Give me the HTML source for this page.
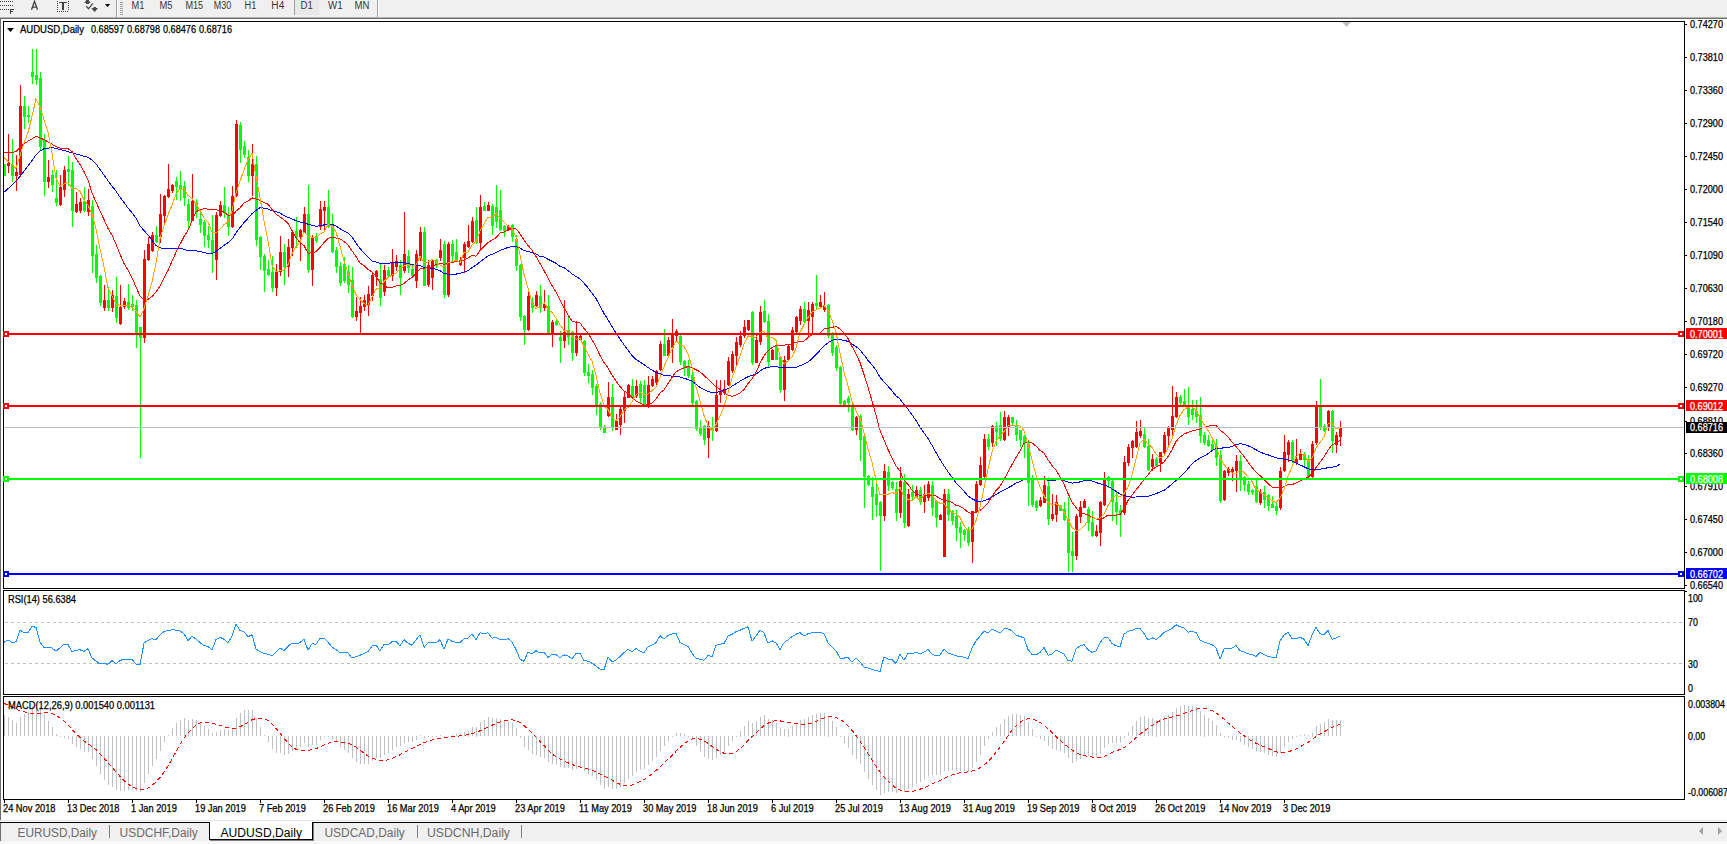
<!DOCTYPE html>
<html><head><meta charset="utf-8"><style>
html,body{margin:0;padding:0;background:#fff;overflow:hidden}
svg{display:block}
text{white-space:pre}
</style></head><body>
<svg width="1727" height="844" viewBox="0 0 1727 844" font-family='"Liberation Sans", sans-serif'>
<rect x="0" y="0" width="1727" height="17" fill="#f0f0f0"/>
<rect x="0" y="17" width="1727" height="1" fill="#b4b4b4"/>
<rect x="0" y="18" width="1727" height="1" fill="#6d6d6d"/>
<rect x="0" y="19" width="1727" height="801" fill="#ffffff"/>
<rect x="0" y="19" width="1" height="801" fill="#6d6d6d"/>
<g shape-rendering="crispEdges">
<rect x="116" y="0" width="1" height="17" fill="#a0a0a0"/><rect x="117" y="0" width="1" height="17" fill="#ffffff"/>
<rect x="377" y="0" width="1" height="17" fill="#a0a0a0"/><rect x="378" y="0" width="1" height="17" fill="#ffffff"/>
<rect x="294" y="0" width="1" height="15" fill="#a0a0a0"/><rect x="295" y="0" width="24" height="15" fill="#e8e8e8"/>
<rect x="120" y="2" width="3" height="1" fill="#a0a0a0"/>
<rect x="120" y="4" width="3" height="1" fill="#a0a0a0"/>
<rect x="120" y="6" width="3" height="1" fill="#a0a0a0"/>
<rect x="120" y="8" width="3" height="1" fill="#a0a0a0"/>
<rect x="120" y="10" width="3" height="1" fill="#a0a0a0"/>
<rect x="120" y="12" width="3" height="1" fill="#a0a0a0"/>
<rect x="120" y="14" width="3" height="1" fill="#a0a0a0"/>
</g>
<text x="131.6" y="9" font-size="10" fill="#383838" stroke="#383838" stroke-width="0" text-anchor="start" font-weight="normal" textLength="12.9" lengthAdjust="spacingAndGlyphs">M1</text>
<text x="159.4" y="9" font-size="10" fill="#383838" stroke="#383838" stroke-width="0" text-anchor="start" font-weight="normal" textLength="13.0" lengthAdjust="spacingAndGlyphs">M5</text>
<text x="185.4" y="9" font-size="10" fill="#383838" stroke="#383838" stroke-width="0" text-anchor="start" font-weight="normal" textLength="17.8" lengthAdjust="spacingAndGlyphs">M15</text>
<text x="213.8" y="9" font-size="10" fill="#383838" stroke="#383838" stroke-width="0" text-anchor="start" font-weight="normal" textLength="17.5" lengthAdjust="spacingAndGlyphs">M30</text>
<text x="244.6" y="9" font-size="10" fill="#383838" stroke="#383838" stroke-width="0" text-anchor="start" font-weight="normal" textLength="11.8" lengthAdjust="spacingAndGlyphs">H1</text>
<text x="271.3" y="9" font-size="10" fill="#383838" stroke="#383838" stroke-width="0" text-anchor="start" font-weight="normal" textLength="13.0" lengthAdjust="spacingAndGlyphs">H4</text>
<text x="300.5" y="9" font-size="10" fill="#383838" stroke="#383838" stroke-width="0" text-anchor="start" font-weight="normal" textLength="12.2" lengthAdjust="spacingAndGlyphs">D1</text>
<text x="328" y="9" font-size="10" fill="#383838" stroke="#383838" stroke-width="0" text-anchor="start" font-weight="normal" textLength="14.6" lengthAdjust="spacingAndGlyphs">W1</text>
<text x="354.5" y="9" font-size="10" fill="#383838" stroke="#383838" stroke-width="0" text-anchor="start" font-weight="normal" textLength="14.9" lengthAdjust="spacingAndGlyphs">MN</text>
<g fill="#404040" shape-rendering="crispEdges">
<rect x="0" y="1" width="1" height="1"/>
<rect x="2" y="1" width="1" height="1"/>
<rect x="4" y="1" width="1" height="1"/>
<rect x="6" y="1" width="1" height="1"/>
<rect x="8" y="1" width="1" height="1"/>
<rect x="10" y="1" width="1" height="1"/>
<rect x="12" y="1" width="1" height="1"/>
<rect x="0" y="5" width="1" height="1"/>
<rect x="2" y="5" width="1" height="1"/>
<rect x="4" y="5" width="1" height="1"/>
<rect x="6" y="5" width="1" height="1"/>
<rect x="8" y="5" width="1" height="1"/>
<rect x="10" y="5" width="1" height="1"/>
<rect x="12" y="5" width="1" height="1"/>
<rect x="0" y="9" width="1" height="1"/>
<rect x="2" y="9" width="1" height="1"/>
<rect x="4" y="9" width="1" height="1"/>
<rect x="6" y="9" width="1" height="1"/>
<rect x="8" y="9" width="1" height="1"/>
<rect x="10" y="9" width="1" height="5"/><rect x="10" y="9" width="4" height="1"/><rect x="10" y="11" width="3" height="1"/>
<rect x="57" y="1" width="1" height="1"/><rect x="68" y="1" width="1" height="1"/>
<rect x="57" y="3" width="1" height="1"/><rect x="68" y="3" width="1" height="1"/>
<rect x="57" y="5" width="1" height="1"/><rect x="68" y="5" width="1" height="1"/>
<rect x="57" y="7" width="1" height="1"/><rect x="68" y="7" width="1" height="1"/>
<rect x="57" y="9" width="1" height="1"/><rect x="68" y="9" width="1" height="1"/>
<rect x="57" y="11" width="1" height="1"/>
<rect x="59" y="11" width="1" height="1"/>
<rect x="61" y="11" width="1" height="1"/>
<rect x="63" y="11" width="1" height="1"/>
<rect x="65" y="11" width="1" height="1"/>
<rect x="67" y="11" width="1" height="1"/>
<rect x="59" y="2" width="8" height="1"/><rect x="62" y="2" width="2" height="8"/>
</g>
<path d="M31.5 9.8 L34.5 1.3 L37.5 9.8 M32.6 7.2 L36.4 7.2" fill="none" stroke="#404040" stroke-width="1.3"/>
<path d="M86 0 L89 0 L89 1 L91 3 L89 3 L89 4 L86 4 L86 3 L84 3 L86 1 Z" fill="#4a4a4a"/>
<path d="M86.3 6.3 L88.5 8.8 L92.8 3.4" fill="none" stroke="#4a4a4a" stroke-width="1.3"/>
<path d="M93.5 7 L96 7 L96 8 L98 8.3 L94.7 12 L91.2 8.3 L93.5 8 Z" fill="#4a4a4a"/>
<path d="M105 4 L110.2 4 L107.6 7 Z" fill="#000"/>
<g shape-rendering="crispEdges" fill="none" stroke="#000" stroke-width="1">
<rect x="3.5" y="21.5" width="1681" height="567"/>
<rect x="3.5" y="590.5" width="1681" height="104"/>
<rect x="3.5" y="696.5" width="1681" height="103"/>
</g>
<g shape-rendering="crispEdges">
<rect x="1685" y="24" width="2" height="1" fill="#000"/>
<rect x="1685" y="57" width="2" height="1" fill="#000"/>
<rect x="1685" y="90" width="2" height="1" fill="#000"/>
<rect x="1685" y="123" width="2" height="1" fill="#000"/>
<rect x="1685" y="156" width="2" height="1" fill="#000"/>
<rect x="1685" y="189" width="2" height="1" fill="#000"/>
<rect x="1685" y="222" width="2" height="1" fill="#000"/>
<rect x="1685" y="255" width="2" height="1" fill="#000"/>
<rect x="1685" y="288" width="2" height="1" fill="#000"/>
<rect x="1685" y="321" width="2" height="1" fill="#000"/>
<rect x="1685" y="354" width="2" height="1" fill="#000"/>
<rect x="1685" y="387" width="2" height="1" fill="#000"/>
<rect x="1685" y="421" width="2" height="1" fill="#000"/>
<rect x="1685" y="453" width="2" height="1" fill="#000"/>
<rect x="1685" y="486" width="2" height="1" fill="#000"/>
<rect x="1685" y="519" width="2" height="1" fill="#000"/>
<rect x="1685" y="552" width="2" height="1" fill="#000"/>
<rect x="1685" y="585" width="2" height="1" fill="#000"/>
</g>
<text x="1690" y="28" font-size="10" fill="#000" stroke="#000" stroke-width="0.25" text-anchor="start" font-weight="normal" textLength="33" lengthAdjust="spacingAndGlyphs">0.74270</text>
<text x="1690" y="61" font-size="10" fill="#000" stroke="#000" stroke-width="0.25" text-anchor="start" font-weight="normal" textLength="33" lengthAdjust="spacingAndGlyphs">0.73810</text>
<text x="1690" y="94" font-size="10" fill="#000" stroke="#000" stroke-width="0.25" text-anchor="start" font-weight="normal" textLength="33" lengthAdjust="spacingAndGlyphs">0.73360</text>
<text x="1690" y="127" font-size="10" fill="#000" stroke="#000" stroke-width="0.25" text-anchor="start" font-weight="normal" textLength="33" lengthAdjust="spacingAndGlyphs">0.72900</text>
<text x="1690" y="160" font-size="10" fill="#000" stroke="#000" stroke-width="0.25" text-anchor="start" font-weight="normal" textLength="33" lengthAdjust="spacingAndGlyphs">0.72450</text>
<text x="1690" y="193" font-size="10" fill="#000" stroke="#000" stroke-width="0.25" text-anchor="start" font-weight="normal" textLength="33" lengthAdjust="spacingAndGlyphs">0.72000</text>
<text x="1690" y="226" font-size="10" fill="#000" stroke="#000" stroke-width="0.25" text-anchor="start" font-weight="normal" textLength="33" lengthAdjust="spacingAndGlyphs">0.71540</text>
<text x="1690" y="259" font-size="10" fill="#000" stroke="#000" stroke-width="0.25" text-anchor="start" font-weight="normal" textLength="33" lengthAdjust="spacingAndGlyphs">0.71090</text>
<text x="1690" y="292" font-size="10" fill="#000" stroke="#000" stroke-width="0.25" text-anchor="start" font-weight="normal" textLength="33" lengthAdjust="spacingAndGlyphs">0.70630</text>
<text x="1690" y="325" font-size="10" fill="#000" stroke="#000" stroke-width="0.25" text-anchor="start" font-weight="normal" textLength="33" lengthAdjust="spacingAndGlyphs">0.70180</text>
<text x="1690" y="358" font-size="10" fill="#000" stroke="#000" stroke-width="0.25" text-anchor="start" font-weight="normal" textLength="33" lengthAdjust="spacingAndGlyphs">0.69720</text>
<text x="1690" y="391" font-size="10" fill="#000" stroke="#000" stroke-width="0.25" text-anchor="start" font-weight="normal" textLength="33" lengthAdjust="spacingAndGlyphs">0.69270</text>
<text x="1690" y="425" font-size="10" fill="#000" stroke="#000" stroke-width="0.25" text-anchor="start" font-weight="normal" textLength="33" lengthAdjust="spacingAndGlyphs">0.68810</text>
<text x="1690" y="457" font-size="10" fill="#000" stroke="#000" stroke-width="0.25" text-anchor="start" font-weight="normal" textLength="33" lengthAdjust="spacingAndGlyphs">0.68360</text>
<text x="1690" y="490" font-size="10" fill="#000" stroke="#000" stroke-width="0.25" text-anchor="start" font-weight="normal" textLength="33" lengthAdjust="spacingAndGlyphs">0.67910</text>
<text x="1690" y="523" font-size="10" fill="#000" stroke="#000" stroke-width="0.25" text-anchor="start" font-weight="normal" textLength="33" lengthAdjust="spacingAndGlyphs">0.67450</text>
<text x="1690" y="556" font-size="10" fill="#000" stroke="#000" stroke-width="0.25" text-anchor="start" font-weight="normal" textLength="33" lengthAdjust="spacingAndGlyphs">0.67000</text>
<text x="1690" y="589" font-size="10" fill="#000" stroke="#000" stroke-width="0.25" text-anchor="start" font-weight="normal" textLength="33" lengthAdjust="spacingAndGlyphs">0.66540</text>
<g shape-rendering="crispEdges">
<rect x="4" y="164" width="1" height="12" fill="#00ff00"/>
<rect x="4" y="164" width="2" height="12" fill="#00ff00"/>
<rect x="8" y="134" width="1" height="39" fill="#ff0000"/>
<rect x="7" y="163" width="3" height="3" fill="#ff0000"/>
<rect x="12" y="139" width="1" height="43" fill="#00ff00"/>
<rect x="11" y="165" width="3" height="11" fill="#00ff00"/>
<rect x="16" y="155" width="1" height="36" fill="#ff0000"/>
<rect x="15" y="172" width="3" height="4" fill="#ff0000"/>
<rect x="20" y="85" width="1" height="92" fill="#ff0000"/>
<rect x="19" y="106" width="3" height="69" fill="#ff0000"/>
<rect x="24" y="96" width="1" height="33" fill="#00ff00"/>
<rect x="23" y="106" width="3" height="11" fill="#00ff00"/>
<rect x="28" y="106" width="1" height="17" fill="#00ff00"/>
<rect x="27" y="115" width="3" height="2" fill="#00ff00"/>
<rect x="32" y="49" width="1" height="35" fill="#00ff00"/>
<rect x="31" y="72" width="3" height="5" fill="#00ff00"/>
<rect x="36" y="49" width="1" height="36" fill="#00ff00"/>
<rect x="35" y="75" width="3" height="5" fill="#00ff00"/>
<rect x="40" y="72" width="1" height="79" fill="#00ff00"/>
<rect x="39" y="78" width="3" height="69" fill="#00ff00"/>
<rect x="44" y="134" width="1" height="62" fill="#00ff00"/>
<rect x="43" y="140" width="3" height="42" fill="#00ff00"/>
<rect x="48" y="160" width="1" height="28" fill="#ff0000"/>
<rect x="47" y="177" width="3" height="5" fill="#ff0000"/>
<rect x="52" y="170" width="1" height="22" fill="#00ff00"/>
<rect x="51" y="175" width="3" height="10" fill="#00ff00"/>
<rect x="56" y="170" width="1" height="36" fill="#00ff00"/>
<rect x="55" y="198" width="3" height="5" fill="#00ff00"/>
<rect x="60" y="175" width="1" height="31" fill="#ff0000"/>
<rect x="59" y="187" width="3" height="18" fill="#ff0000"/>
<rect x="64" y="166" width="1" height="31" fill="#ff0000"/>
<rect x="63" y="170" width="3" height="20" fill="#ff0000"/>
<rect x="68" y="156" width="1" height="30" fill="#00ff00"/>
<rect x="67" y="169" width="3" height="3" fill="#00ff00"/>
<rect x="72" y="162" width="1" height="65" fill="#00ff00"/>
<rect x="71" y="170" width="3" height="41" fill="#00ff00"/>
<rect x="76" y="192" width="1" height="21" fill="#ff0000"/>
<rect x="75" y="204" width="3" height="8" fill="#ff0000"/>
<rect x="80" y="198" width="1" height="15" fill="#ff0000"/>
<rect x="79" y="202" width="3" height="9" fill="#ff0000"/>
<rect x="84" y="187" width="1" height="25" fill="#00ff00"/>
<rect x="83" y="201" width="3" height="10" fill="#00ff00"/>
<rect x="88" y="189" width="1" height="27" fill="#ff0000"/>
<rect x="87" y="200" width="3" height="12" fill="#ff0000"/>
<rect x="92" y="200" width="1" height="73" fill="#00ff00"/>
<rect x="91" y="206" width="3" height="50" fill="#00ff00"/>
<rect x="96" y="245" width="1" height="38" fill="#00ff00"/>
<rect x="95" y="254" width="3" height="24" fill="#00ff00"/>
<rect x="100" y="275" width="1" height="31" fill="#00ff00"/>
<rect x="99" y="276" width="3" height="27" fill="#00ff00"/>
<rect x="104" y="285" width="1" height="26" fill="#ff0000"/>
<rect x="103" y="300" width="3" height="8" fill="#ff0000"/>
<rect x="108" y="287" width="1" height="24" fill="#00ff00"/>
<rect x="107" y="300" width="3" height="8" fill="#00ff00"/>
<rect x="112" y="290" width="1" height="22" fill="#ff0000"/>
<rect x="111" y="295" width="3" height="13" fill="#ff0000"/>
<rect x="116" y="277" width="1" height="46" fill="#00ff00"/>
<rect x="115" y="296" width="3" height="22" fill="#00ff00"/>
<rect x="120" y="285" width="1" height="40" fill="#ff0000"/>
<rect x="119" y="307" width="3" height="17" fill="#ff0000"/>
<rect x="124" y="298" width="1" height="11" fill="#ff0000"/>
<rect x="123" y="301" width="3" height="6" fill="#ff0000"/>
<rect x="128" y="284" width="1" height="26" fill="#00ff00"/>
<rect x="127" y="302" width="3" height="6" fill="#00ff00"/>
<rect x="132" y="295" width="1" height="16" fill="#00ff00"/>
<rect x="131" y="304" width="3" height="3" fill="#00ff00"/>
<rect x="136" y="300" width="1" height="48" fill="#00ff00"/>
<rect x="135" y="305" width="3" height="30" fill="#00ff00"/>
<rect x="140" y="327" width="1" height="131" fill="#00ff00"/>
<rect x="139" y="327" width="3" height="11" fill="#00ff00"/>
<rect x="144" y="250" width="1" height="93" fill="#ff0000"/>
<rect x="143" y="259" width="3" height="79" fill="#ff0000"/>
<rect x="148" y="237" width="1" height="24" fill="#ff0000"/>
<rect x="147" y="244" width="3" height="16" fill="#ff0000"/>
<rect x="152" y="232" width="1" height="20" fill="#ff0000"/>
<rect x="151" y="235" width="3" height="16" fill="#ff0000"/>
<rect x="156" y="226" width="1" height="17" fill="#00ff00"/>
<rect x="155" y="235" width="3" height="7" fill="#00ff00"/>
<rect x="160" y="194" width="1" height="49" fill="#ff0000"/>
<rect x="159" y="214" width="3" height="23" fill="#ff0000"/>
<rect x="164" y="195" width="1" height="28" fill="#ff0000"/>
<rect x="163" y="196" width="3" height="20" fill="#ff0000"/>
<rect x="168" y="164" width="1" height="34" fill="#ff0000"/>
<rect x="167" y="189" width="3" height="8" fill="#ff0000"/>
<rect x="172" y="184" width="1" height="9" fill="#ff0000"/>
<rect x="171" y="185" width="3" height="6" fill="#ff0000"/>
<rect x="176" y="177" width="1" height="23" fill="#00ff00"/>
<rect x="175" y="181" width="3" height="6" fill="#00ff00"/>
<rect x="180" y="171" width="1" height="30" fill="#00ff00"/>
<rect x="179" y="185" width="3" height="5" fill="#00ff00"/>
<rect x="184" y="181" width="1" height="25" fill="#00ff00"/>
<rect x="183" y="186" width="3" height="12" fill="#00ff00"/>
<rect x="188" y="199" width="1" height="29" fill="#00ff00"/>
<rect x="187" y="204" width="3" height="17" fill="#00ff00"/>
<rect x="192" y="174" width="1" height="47" fill="#ff0000"/>
<rect x="191" y="201" width="3" height="20" fill="#ff0000"/>
<rect x="196" y="199" width="1" height="19" fill="#00ff00"/>
<rect x="195" y="202" width="3" height="10" fill="#00ff00"/>
<rect x="200" y="210" width="1" height="23" fill="#00ff00"/>
<rect x="199" y="219" width="3" height="6" fill="#00ff00"/>
<rect x="204" y="220" width="1" height="27" fill="#00ff00"/>
<rect x="203" y="222" width="3" height="14" fill="#00ff00"/>
<rect x="208" y="226" width="1" height="22" fill="#00ff00"/>
<rect x="207" y="235" width="3" height="5" fill="#00ff00"/>
<rect x="212" y="215" width="1" height="58" fill="#00ff00"/>
<rect x="211" y="240" width="3" height="13" fill="#00ff00"/>
<rect x="216" y="212" width="1" height="68" fill="#ff0000"/>
<rect x="215" y="215" width="3" height="45" fill="#ff0000"/>
<rect x="220" y="201" width="1" height="16" fill="#ff0000"/>
<rect x="219" y="205" width="3" height="11" fill="#ff0000"/>
<rect x="224" y="187" width="1" height="31" fill="#00ff00"/>
<rect x="223" y="205" width="3" height="8" fill="#00ff00"/>
<rect x="228" y="207" width="1" height="29" fill="#00ff00"/>
<rect x="227" y="215" width="3" height="12" fill="#00ff00"/>
<rect x="232" y="186" width="1" height="42" fill="#ff0000"/>
<rect x="231" y="196" width="3" height="31" fill="#ff0000"/>
<rect x="236" y="120" width="1" height="77" fill="#ff0000"/>
<rect x="235" y="124" width="3" height="72" fill="#ff0000"/>
<rect x="240" y="122" width="1" height="41" fill="#00ff00"/>
<rect x="239" y="125" width="3" height="25" fill="#00ff00"/>
<rect x="244" y="141" width="1" height="17" fill="#00ff00"/>
<rect x="243" y="146" width="3" height="9" fill="#00ff00"/>
<rect x="248" y="150" width="1" height="32" fill="#00ff00"/>
<rect x="247" y="157" width="3" height="19" fill="#00ff00"/>
<rect x="252" y="144" width="1" height="52" fill="#ff0000"/>
<rect x="251" y="164" width="3" height="12" fill="#ff0000"/>
<rect x="256" y="156" width="1" height="90" fill="#00ff00"/>
<rect x="255" y="164" width="3" height="76" fill="#00ff00"/>
<rect x="260" y="236" width="1" height="34" fill="#00ff00"/>
<rect x="259" y="237" width="3" height="20" fill="#00ff00"/>
<rect x="264" y="254" width="1" height="38" fill="#00ff00"/>
<rect x="263" y="256" width="3" height="15" fill="#00ff00"/>
<rect x="268" y="260" width="1" height="16" fill="#00ff00"/>
<rect x="267" y="269" width="3" height="6" fill="#00ff00"/>
<rect x="272" y="256" width="1" height="36" fill="#00ff00"/>
<rect x="271" y="272" width="3" height="16" fill="#00ff00"/>
<rect x="276" y="264" width="1" height="32" fill="#ff0000"/>
<rect x="275" y="271" width="3" height="17" fill="#ff0000"/>
<rect x="280" y="236" width="1" height="40" fill="#ff0000"/>
<rect x="279" y="252" width="3" height="20" fill="#ff0000"/>
<rect x="284" y="244" width="1" height="41" fill="#00ff00"/>
<rect x="283" y="252" width="3" height="15" fill="#00ff00"/>
<rect x="288" y="239" width="1" height="38" fill="#ff0000"/>
<rect x="287" y="247" width="3" height="20" fill="#ff0000"/>
<rect x="292" y="230" width="1" height="26" fill="#ff0000"/>
<rect x="291" y="232" width="3" height="16" fill="#ff0000"/>
<rect x="296" y="217" width="1" height="31" fill="#00ff00"/>
<rect x="295" y="231" width="3" height="6" fill="#00ff00"/>
<rect x="300" y="229" width="1" height="32" fill="#ff0000"/>
<rect x="299" y="230" width="3" height="7" fill="#ff0000"/>
<rect x="304" y="207" width="1" height="26" fill="#ff0000"/>
<rect x="303" y="214" width="3" height="19" fill="#ff0000"/>
<rect x="308" y="185" width="1" height="88" fill="#00ff00"/>
<rect x="307" y="214" width="3" height="56" fill="#00ff00"/>
<rect x="312" y="235" width="1" height="51" fill="#ff0000"/>
<rect x="311" y="237" width="3" height="33" fill="#ff0000"/>
<rect x="316" y="233" width="1" height="10" fill="#00ff00"/>
<rect x="315" y="236" width="3" height="5" fill="#00ff00"/>
<rect x="320" y="201" width="1" height="29" fill="#ff0000"/>
<rect x="319" y="209" width="3" height="18" fill="#ff0000"/>
<rect x="324" y="201" width="1" height="31" fill="#ff0000"/>
<rect x="323" y="207" width="3" height="4" fill="#ff0000"/>
<rect x="328" y="190" width="1" height="38" fill="#00ff00"/>
<rect x="327" y="207" width="3" height="20" fill="#00ff00"/>
<rect x="332" y="214" width="1" height="39" fill="#00ff00"/>
<rect x="331" y="225" width="3" height="27" fill="#00ff00"/>
<rect x="336" y="247" width="1" height="26" fill="#00ff00"/>
<rect x="335" y="250" width="3" height="17" fill="#00ff00"/>
<rect x="340" y="262" width="1" height="24" fill="#00ff00"/>
<rect x="339" y="266" width="3" height="17" fill="#00ff00"/>
<rect x="344" y="257" width="1" height="26" fill="#00ff00"/>
<rect x="343" y="264" width="3" height="17" fill="#00ff00"/>
<rect x="348" y="265" width="1" height="28" fill="#00ff00"/>
<rect x="347" y="272" width="3" height="13" fill="#00ff00"/>
<rect x="352" y="267" width="1" height="51" fill="#00ff00"/>
<rect x="351" y="280" width="3" height="37" fill="#00ff00"/>
<rect x="356" y="297" width="1" height="24" fill="#ff0000"/>
<rect x="355" y="311" width="3" height="6" fill="#ff0000"/>
<rect x="360" y="297" width="1" height="38" fill="#ff0000"/>
<rect x="359" y="306" width="3" height="7" fill="#ff0000"/>
<rect x="364" y="295" width="1" height="16" fill="#ff0000"/>
<rect x="363" y="300" width="3" height="7" fill="#ff0000"/>
<rect x="368" y="286" width="1" height="30" fill="#ff0000"/>
<rect x="367" y="294" width="3" height="11" fill="#ff0000"/>
<rect x="372" y="272" width="1" height="29" fill="#ff0000"/>
<rect x="371" y="275" width="3" height="21" fill="#ff0000"/>
<rect x="376" y="270" width="1" height="16" fill="#ff0000"/>
<rect x="375" y="271" width="3" height="6" fill="#ff0000"/>
<rect x="380" y="264" width="1" height="42" fill="#00ff00"/>
<rect x="379" y="279" width="3" height="19" fill="#00ff00"/>
<rect x="384" y="265" width="1" height="31" fill="#ff0000"/>
<rect x="383" y="270" width="3" height="22" fill="#ff0000"/>
<rect x="388" y="267" width="1" height="11" fill="#00ff00"/>
<rect x="387" y="270" width="3" height="6" fill="#00ff00"/>
<rect x="392" y="249" width="1" height="32" fill="#ff0000"/>
<rect x="391" y="262" width="3" height="14" fill="#ff0000"/>
<rect x="396" y="255" width="1" height="16" fill="#ff0000"/>
<rect x="395" y="261" width="3" height="6" fill="#ff0000"/>
<rect x="400" y="260" width="1" height="35" fill="#00ff00"/>
<rect x="399" y="265" width="3" height="13" fill="#00ff00"/>
<rect x="404" y="212" width="1" height="61" fill="#ff0000"/>
<rect x="403" y="254" width="3" height="17" fill="#ff0000"/>
<rect x="408" y="250" width="1" height="23" fill="#00ff00"/>
<rect x="407" y="256" width="3" height="12" fill="#00ff00"/>
<rect x="412" y="265" width="1" height="13" fill="#00ff00"/>
<rect x="411" y="269" width="3" height="7" fill="#00ff00"/>
<rect x="416" y="250" width="1" height="38" fill="#ff0000"/>
<rect x="415" y="254" width="3" height="27" fill="#ff0000"/>
<rect x="420" y="227" width="1" height="34" fill="#ff0000"/>
<rect x="419" y="232" width="3" height="26" fill="#ff0000"/>
<rect x="424" y="227" width="1" height="59" fill="#00ff00"/>
<rect x="423" y="232" width="3" height="54" fill="#00ff00"/>
<rect x="428" y="260" width="1" height="27" fill="#ff0000"/>
<rect x="427" y="265" width="3" height="20" fill="#ff0000"/>
<rect x="432" y="259" width="1" height="31" fill="#ff0000"/>
<rect x="431" y="261" width="3" height="17" fill="#ff0000"/>
<rect x="436" y="259" width="1" height="9" fill="#00ff00"/>
<rect x="435" y="260" width="3" height="6" fill="#00ff00"/>
<rect x="440" y="239" width="1" height="22" fill="#ff0000"/>
<rect x="439" y="250" width="3" height="8" fill="#ff0000"/>
<rect x="444" y="241" width="1" height="57" fill="#00ff00"/>
<rect x="443" y="244" width="3" height="51" fill="#00ff00"/>
<rect x="448" y="242" width="1" height="55" fill="#ff0000"/>
<rect x="447" y="244" width="3" height="51" fill="#ff0000"/>
<rect x="452" y="240" width="1" height="22" fill="#00ff00"/>
<rect x="451" y="244" width="3" height="12" fill="#00ff00"/>
<rect x="456" y="239" width="1" height="23" fill="#00ff00"/>
<rect x="455" y="252" width="3" height="9" fill="#00ff00"/>
<rect x="460" y="257" width="1" height="9" fill="#ff0000"/>
<rect x="459" y="260" width="3" height="5" fill="#ff0000"/>
<rect x="464" y="242" width="1" height="31" fill="#ff0000"/>
<rect x="463" y="244" width="3" height="14" fill="#ff0000"/>
<rect x="468" y="225" width="1" height="23" fill="#ff0000"/>
<rect x="467" y="241" width="3" height="6" fill="#ff0000"/>
<rect x="472" y="217" width="1" height="26" fill="#ff0000"/>
<rect x="471" y="221" width="3" height="21" fill="#ff0000"/>
<rect x="476" y="207" width="1" height="37" fill="#00ff00"/>
<rect x="475" y="220" width="3" height="23" fill="#00ff00"/>
<rect x="480" y="195" width="1" height="56" fill="#ff0000"/>
<rect x="479" y="207" width="3" height="36" fill="#ff0000"/>
<rect x="484" y="202" width="1" height="9" fill="#00ff00"/>
<rect x="483" y="206" width="3" height="5" fill="#00ff00"/>
<rect x="488" y="202" width="1" height="9" fill="#ff0000"/>
<rect x="487" y="205" width="3" height="6" fill="#ff0000"/>
<rect x="492" y="204" width="1" height="31" fill="#00ff00"/>
<rect x="491" y="206" width="3" height="20" fill="#00ff00"/>
<rect x="496" y="185" width="1" height="43" fill="#00ff00"/>
<rect x="495" y="207" width="3" height="15" fill="#00ff00"/>
<rect x="500" y="190" width="1" height="41" fill="#00ff00"/>
<rect x="499" y="210" width="3" height="20" fill="#00ff00"/>
<rect x="504" y="225" width="1" height="12" fill="#00ff00"/>
<rect x="503" y="226" width="3" height="5" fill="#00ff00"/>
<rect x="508" y="225" width="1" height="6" fill="#ff0000"/>
<rect x="507" y="226" width="3" height="4" fill="#ff0000"/>
<rect x="512" y="224" width="1" height="18" fill="#00ff00"/>
<rect x="511" y="225" width="3" height="12" fill="#00ff00"/>
<rect x="516" y="235" width="1" height="36" fill="#00ff00"/>
<rect x="515" y="239" width="3" height="27" fill="#00ff00"/>
<rect x="520" y="264" width="1" height="57" fill="#00ff00"/>
<rect x="519" y="265" width="3" height="52" fill="#00ff00"/>
<rect x="524" y="315" width="1" height="30" fill="#00ff00"/>
<rect x="523" y="316" width="3" height="14" fill="#00ff00"/>
<rect x="528" y="292" width="1" height="39" fill="#ff0000"/>
<rect x="527" y="296" width="3" height="34" fill="#ff0000"/>
<rect x="532" y="297" width="1" height="16" fill="#00ff00"/>
<rect x="531" y="302" width="3" height="6" fill="#00ff00"/>
<rect x="536" y="291" width="1" height="16" fill="#ff0000"/>
<rect x="535" y="295" width="3" height="11" fill="#ff0000"/>
<rect x="540" y="285" width="1" height="28" fill="#00ff00"/>
<rect x="539" y="296" width="3" height="12" fill="#00ff00"/>
<rect x="544" y="290" width="1" height="21" fill="#ff0000"/>
<rect x="543" y="304" width="3" height="4" fill="#ff0000"/>
<rect x="548" y="295" width="1" height="40" fill="#00ff00"/>
<rect x="547" y="306" width="3" height="29" fill="#00ff00"/>
<rect x="552" y="320" width="1" height="27" fill="#ff0000"/>
<rect x="551" y="322" width="3" height="13" fill="#ff0000"/>
<rect x="556" y="319" width="1" height="7" fill="#00ff00"/>
<rect x="555" y="321" width="3" height="4" fill="#00ff00"/>
<rect x="560" y="331" width="1" height="32" fill="#00ff00"/>
<rect x="559" y="337" width="3" height="4" fill="#00ff00"/>
<rect x="564" y="300" width="1" height="48" fill="#ff0000"/>
<rect x="563" y="332" width="3" height="9" fill="#ff0000"/>
<rect x="568" y="316" width="1" height="29" fill="#00ff00"/>
<rect x="567" y="330" width="3" height="7" fill="#00ff00"/>
<rect x="572" y="331" width="1" height="30" fill="#00ff00"/>
<rect x="571" y="332" width="3" height="21" fill="#00ff00"/>
<rect x="576" y="321" width="1" height="35" fill="#ff0000"/>
<rect x="575" y="336" width="3" height="17" fill="#ff0000"/>
<rect x="580" y="335" width="1" height="5" fill="#ff0000"/>
<rect x="579" y="336" width="3" height="4" fill="#ff0000"/>
<rect x="584" y="340" width="1" height="36" fill="#00ff00"/>
<rect x="583" y="341" width="3" height="32" fill="#00ff00"/>
<rect x="588" y="364" width="1" height="19" fill="#00ff00"/>
<rect x="587" y="372" width="3" height="4" fill="#00ff00"/>
<rect x="592" y="370" width="1" height="25" fill="#00ff00"/>
<rect x="591" y="374" width="3" height="14" fill="#00ff00"/>
<rect x="596" y="384" width="1" height="31" fill="#00ff00"/>
<rect x="595" y="386" width="3" height="20" fill="#00ff00"/>
<rect x="600" y="402" width="1" height="28" fill="#00ff00"/>
<rect x="599" y="404" width="3" height="24" fill="#00ff00"/>
<rect x="604" y="425" width="1" height="8" fill="#00ff00"/>
<rect x="603" y="427" width="3" height="6" fill="#00ff00"/>
<rect x="608" y="382" width="1" height="35" fill="#ff0000"/>
<rect x="607" y="397" width="3" height="19" fill="#ff0000"/>
<rect x="612" y="384" width="1" height="47" fill="#00ff00"/>
<rect x="611" y="397" width="3" height="30" fill="#00ff00"/>
<rect x="616" y="414" width="1" height="16" fill="#ff0000"/>
<rect x="615" y="421" width="3" height="9" fill="#ff0000"/>
<rect x="620" y="407" width="1" height="28" fill="#ff0000"/>
<rect x="619" y="409" width="3" height="16" fill="#ff0000"/>
<rect x="624" y="391" width="1" height="32" fill="#ff0000"/>
<rect x="623" y="397" width="3" height="14" fill="#ff0000"/>
<rect x="628" y="384" width="1" height="14" fill="#ff0000"/>
<rect x="627" y="385" width="3" height="13" fill="#ff0000"/>
<rect x="632" y="379" width="1" height="19" fill="#00ff00"/>
<rect x="631" y="386" width="3" height="12" fill="#00ff00"/>
<rect x="636" y="380" width="1" height="18" fill="#ff0000"/>
<rect x="635" y="386" width="3" height="10" fill="#ff0000"/>
<rect x="640" y="381" width="1" height="22" fill="#00ff00"/>
<rect x="639" y="384" width="3" height="14" fill="#00ff00"/>
<rect x="644" y="380" width="1" height="27" fill="#00ff00"/>
<rect x="643" y="385" width="3" height="21" fill="#00ff00"/>
<rect x="648" y="376" width="1" height="32" fill="#ff0000"/>
<rect x="647" y="385" width="3" height="21" fill="#ff0000"/>
<rect x="652" y="376" width="1" height="11" fill="#ff0000"/>
<rect x="651" y="379" width="3" height="7" fill="#ff0000"/>
<rect x="656" y="370" width="1" height="16" fill="#ff0000"/>
<rect x="655" y="371" width="3" height="12" fill="#ff0000"/>
<rect x="660" y="341" width="1" height="30" fill="#ff0000"/>
<rect x="659" y="344" width="3" height="26" fill="#ff0000"/>
<rect x="664" y="329" width="1" height="27" fill="#00ff00"/>
<rect x="663" y="344" width="3" height="12" fill="#00ff00"/>
<rect x="668" y="337" width="1" height="19" fill="#ff0000"/>
<rect x="667" y="340" width="3" height="16" fill="#ff0000"/>
<rect x="672" y="319" width="1" height="44" fill="#ff0000"/>
<rect x="671" y="334" width="3" height="14" fill="#ff0000"/>
<rect x="676" y="329" width="1" height="12" fill="#ff0000"/>
<rect x="675" y="331" width="3" height="5" fill="#ff0000"/>
<rect x="680" y="335" width="1" height="30" fill="#00ff00"/>
<rect x="679" y="336" width="3" height="26" fill="#00ff00"/>
<rect x="684" y="360" width="1" height="16" fill="#00ff00"/>
<rect x="683" y="361" width="3" height="7" fill="#00ff00"/>
<rect x="688" y="360" width="1" height="18" fill="#00ff00"/>
<rect x="687" y="366" width="3" height="10" fill="#00ff00"/>
<rect x="692" y="372" width="1" height="34" fill="#00ff00"/>
<rect x="691" y="375" width="3" height="28" fill="#00ff00"/>
<rect x="696" y="400" width="1" height="31" fill="#00ff00"/>
<rect x="695" y="401" width="3" height="28" fill="#00ff00"/>
<rect x="700" y="420" width="1" height="16" fill="#00ff00"/>
<rect x="699" y="427" width="3" height="7" fill="#00ff00"/>
<rect x="704" y="425" width="1" height="20" fill="#00ff00"/>
<rect x="703" y="426" width="3" height="14" fill="#00ff00"/>
<rect x="708" y="421" width="1" height="37" fill="#ff0000"/>
<rect x="707" y="426" width="3" height="12" fill="#ff0000"/>
<rect x="712" y="417" width="1" height="24" fill="#00ff00"/>
<rect x="711" y="427" width="3" height="4" fill="#00ff00"/>
<rect x="716" y="380" width="1" height="52" fill="#ff0000"/>
<rect x="715" y="395" width="3" height="36" fill="#ff0000"/>
<rect x="720" y="380" width="1" height="23" fill="#ff0000"/>
<rect x="719" y="391" width="3" height="4" fill="#ff0000"/>
<rect x="724" y="380" width="1" height="15" fill="#ff0000"/>
<rect x="723" y="389" width="3" height="4" fill="#ff0000"/>
<rect x="728" y="357" width="1" height="29" fill="#ff0000"/>
<rect x="727" y="361" width="3" height="24" fill="#ff0000"/>
<rect x="732" y="351" width="1" height="22" fill="#ff0000"/>
<rect x="731" y="354" width="3" height="17" fill="#ff0000"/>
<rect x="736" y="337" width="1" height="29" fill="#ff0000"/>
<rect x="735" y="342" width="3" height="14" fill="#ff0000"/>
<rect x="740" y="331" width="1" height="16" fill="#ff0000"/>
<rect x="739" y="336" width="3" height="9" fill="#ff0000"/>
<rect x="744" y="320" width="1" height="18" fill="#ff0000"/>
<rect x="743" y="327" width="3" height="9" fill="#ff0000"/>
<rect x="748" y="320" width="1" height="11" fill="#ff0000"/>
<rect x="747" y="320" width="3" height="10" fill="#ff0000"/>
<rect x="752" y="311" width="1" height="54" fill="#00ff00"/>
<rect x="751" y="312" width="3" height="51" fill="#00ff00"/>
<rect x="756" y="334" width="1" height="29" fill="#ff0000"/>
<rect x="755" y="340" width="3" height="23" fill="#ff0000"/>
<rect x="760" y="306" width="1" height="39" fill="#ff0000"/>
<rect x="759" y="312" width="3" height="30" fill="#ff0000"/>
<rect x="764" y="300" width="1" height="23" fill="#00ff00"/>
<rect x="763" y="311" width="3" height="11" fill="#00ff00"/>
<rect x="768" y="314" width="1" height="53" fill="#00ff00"/>
<rect x="767" y="321" width="3" height="41" fill="#00ff00"/>
<rect x="772" y="349" width="1" height="11" fill="#ff0000"/>
<rect x="771" y="350" width="3" height="10" fill="#ff0000"/>
<rect x="776" y="340" width="1" height="20" fill="#00ff00"/>
<rect x="775" y="346" width="3" height="14" fill="#00ff00"/>
<rect x="780" y="356" width="1" height="37" fill="#00ff00"/>
<rect x="779" y="357" width="3" height="33" fill="#00ff00"/>
<rect x="784" y="356" width="1" height="45" fill="#ff0000"/>
<rect x="783" y="360" width="3" height="30" fill="#ff0000"/>
<rect x="788" y="344" width="1" height="17" fill="#ff0000"/>
<rect x="787" y="346" width="3" height="14" fill="#ff0000"/>
<rect x="792" y="327" width="1" height="24" fill="#ff0000"/>
<rect x="791" y="330" width="3" height="20" fill="#ff0000"/>
<rect x="796" y="316" width="1" height="17" fill="#ff0000"/>
<rect x="795" y="317" width="3" height="15" fill="#ff0000"/>
<rect x="800" y="306" width="1" height="19" fill="#ff0000"/>
<rect x="799" y="309" width="3" height="12" fill="#ff0000"/>
<rect x="804" y="302" width="1" height="21" fill="#00ff00"/>
<rect x="803" y="309" width="3" height="13" fill="#00ff00"/>
<rect x="808" y="302" width="1" height="36" fill="#ff0000"/>
<rect x="807" y="310" width="3" height="11" fill="#ff0000"/>
<rect x="812" y="302" width="1" height="31" fill="#ff0000"/>
<rect x="811" y="304" width="3" height="13" fill="#ff0000"/>
<rect x="816" y="275" width="1" height="35" fill="#00ff00"/>
<rect x="815" y="303" width="3" height="3" fill="#00ff00"/>
<rect x="820" y="295" width="1" height="13" fill="#ff0000"/>
<rect x="819" y="302" width="3" height="5" fill="#ff0000"/>
<rect x="824" y="292" width="1" height="20" fill="#ff0000"/>
<rect x="823" y="306" width="3" height="4" fill="#ff0000"/>
<rect x="828" y="304" width="1" height="34" fill="#00ff00"/>
<rect x="827" y="305" width="3" height="31" fill="#00ff00"/>
<rect x="832" y="332" width="1" height="24" fill="#00ff00"/>
<rect x="831" y="335" width="3" height="18" fill="#00ff00"/>
<rect x="836" y="345" width="1" height="26" fill="#00ff00"/>
<rect x="835" y="347" width="3" height="21" fill="#00ff00"/>
<rect x="840" y="366" width="1" height="40" fill="#00ff00"/>
<rect x="839" y="367" width="3" height="37" fill="#00ff00"/>
<rect x="844" y="400" width="1" height="6" fill="#00ff00"/>
<rect x="843" y="401" width="3" height="4" fill="#00ff00"/>
<rect x="848" y="396" width="1" height="16" fill="#00ff00"/>
<rect x="847" y="398" width="3" height="5" fill="#00ff00"/>
<rect x="852" y="402" width="1" height="29" fill="#00ff00"/>
<rect x="851" y="405" width="3" height="25" fill="#00ff00"/>
<rect x="856" y="416" width="1" height="19" fill="#ff0000"/>
<rect x="855" y="417" width="3" height="13" fill="#ff0000"/>
<rect x="860" y="414" width="1" height="47" fill="#00ff00"/>
<rect x="859" y="416" width="3" height="24" fill="#00ff00"/>
<rect x="864" y="435" width="1" height="73" fill="#00ff00"/>
<rect x="863" y="436" width="3" height="41" fill="#00ff00"/>
<rect x="868" y="475" width="1" height="11" fill="#00ff00"/>
<rect x="867" y="476" width="3" height="9" fill="#00ff00"/>
<rect x="872" y="477" width="1" height="43" fill="#00ff00"/>
<rect x="871" y="487" width="3" height="10" fill="#00ff00"/>
<rect x="876" y="480" width="1" height="37" fill="#00ff00"/>
<rect x="875" y="494" width="3" height="11" fill="#00ff00"/>
<rect x="880" y="501" width="1" height="70" fill="#00ff00"/>
<rect x="879" y="502" width="3" height="14" fill="#00ff00"/>
<rect x="884" y="464" width="1" height="57" fill="#ff0000"/>
<rect x="883" y="471" width="3" height="45" fill="#ff0000"/>
<rect x="888" y="466" width="1" height="25" fill="#00ff00"/>
<rect x="887" y="472" width="3" height="14" fill="#00ff00"/>
<rect x="892" y="481" width="1" height="9" fill="#00ff00"/>
<rect x="891" y="482" width="3" height="6" fill="#00ff00"/>
<rect x="896" y="482" width="1" height="39" fill="#00ff00"/>
<rect x="895" y="489" width="3" height="24" fill="#00ff00"/>
<rect x="900" y="467" width="1" height="51" fill="#ff0000"/>
<rect x="899" y="481" width="3" height="32" fill="#ff0000"/>
<rect x="904" y="474" width="1" height="54" fill="#00ff00"/>
<rect x="903" y="482" width="3" height="41" fill="#00ff00"/>
<rect x="908" y="489" width="1" height="38" fill="#ff0000"/>
<rect x="907" y="494" width="3" height="32" fill="#ff0000"/>
<rect x="912" y="485" width="1" height="15" fill="#00ff00"/>
<rect x="911" y="492" width="3" height="5" fill="#00ff00"/>
<rect x="916" y="486" width="1" height="12" fill="#ff0000"/>
<rect x="915" y="490" width="3" height="7" fill="#ff0000"/>
<rect x="920" y="487" width="1" height="18" fill="#00ff00"/>
<rect x="919" y="490" width="3" height="12" fill="#00ff00"/>
<rect x="924" y="485" width="1" height="28" fill="#ff0000"/>
<rect x="923" y="494" width="3" height="8" fill="#ff0000"/>
<rect x="928" y="481" width="1" height="20" fill="#ff0000"/>
<rect x="927" y="484" width="3" height="14" fill="#ff0000"/>
<rect x="932" y="481" width="1" height="35" fill="#00ff00"/>
<rect x="931" y="485" width="3" height="23" fill="#00ff00"/>
<rect x="936" y="500" width="1" height="27" fill="#00ff00"/>
<rect x="935" y="501" width="3" height="17" fill="#00ff00"/>
<rect x="940" y="514" width="1" height="6" fill="#ff0000"/>
<rect x="939" y="515" width="3" height="5" fill="#ff0000"/>
<rect x="944" y="489" width="1" height="68" fill="#ff0000"/>
<rect x="943" y="494" width="3" height="63" fill="#ff0000"/>
<rect x="948" y="489" width="1" height="32" fill="#00ff00"/>
<rect x="947" y="494" width="3" height="21" fill="#00ff00"/>
<rect x="952" y="510" width="1" height="15" fill="#00ff00"/>
<rect x="951" y="511" width="3" height="10" fill="#00ff00"/>
<rect x="956" y="510" width="1" height="31" fill="#00ff00"/>
<rect x="955" y="516" width="3" height="12" fill="#00ff00"/>
<rect x="960" y="522" width="1" height="26" fill="#00ff00"/>
<rect x="959" y="527" width="3" height="6" fill="#00ff00"/>
<rect x="964" y="529" width="1" height="12" fill="#00ff00"/>
<rect x="963" y="530" width="3" height="5" fill="#00ff00"/>
<rect x="968" y="527" width="1" height="19" fill="#00ff00"/>
<rect x="967" y="530" width="3" height="13" fill="#00ff00"/>
<rect x="972" y="511" width="1" height="52" fill="#ff0000"/>
<rect x="971" y="511" width="3" height="31" fill="#ff0000"/>
<rect x="976" y="481" width="1" height="32" fill="#ff0000"/>
<rect x="975" y="484" width="3" height="28" fill="#ff0000"/>
<rect x="980" y="457" width="1" height="29" fill="#ff0000"/>
<rect x="979" y="465" width="3" height="20" fill="#ff0000"/>
<rect x="984" y="434" width="1" height="44" fill="#ff0000"/>
<rect x="983" y="439" width="3" height="38" fill="#ff0000"/>
<rect x="988" y="434" width="1" height="16" fill="#00ff00"/>
<rect x="987" y="439" width="3" height="8" fill="#00ff00"/>
<rect x="992" y="425" width="1" height="22" fill="#ff0000"/>
<rect x="991" y="426" width="3" height="17" fill="#ff0000"/>
<rect x="996" y="422" width="1" height="24" fill="#00ff00"/>
<rect x="995" y="426" width="3" height="6" fill="#00ff00"/>
<rect x="1000" y="412" width="1" height="29" fill="#00ff00"/>
<rect x="999" y="425" width="3" height="14" fill="#00ff00"/>
<rect x="1004" y="411" width="1" height="30" fill="#ff0000"/>
<rect x="1003" y="417" width="3" height="23" fill="#ff0000"/>
<rect x="1008" y="415" width="1" height="21" fill="#ff0000"/>
<rect x="1007" y="417" width="3" height="11" fill="#ff0000"/>
<rect x="1012" y="417" width="1" height="8" fill="#00ff00"/>
<rect x="1011" y="417" width="3" height="6" fill="#00ff00"/>
<rect x="1016" y="420" width="1" height="21" fill="#00ff00"/>
<rect x="1015" y="426" width="3" height="9" fill="#00ff00"/>
<rect x="1020" y="430" width="1" height="17" fill="#00ff00"/>
<rect x="1019" y="430" width="3" height="10" fill="#00ff00"/>
<rect x="1024" y="435" width="1" height="23" fill="#00ff00"/>
<rect x="1023" y="436" width="3" height="7" fill="#00ff00"/>
<rect x="1028" y="440" width="1" height="66" fill="#00ff00"/>
<rect x="1027" y="444" width="3" height="39" fill="#00ff00"/>
<rect x="1032" y="475" width="1" height="32" fill="#00ff00"/>
<rect x="1031" y="480" width="3" height="25" fill="#00ff00"/>
<rect x="1036" y="500" width="1" height="11" fill="#00ff00"/>
<rect x="1035" y="501" width="3" height="7" fill="#00ff00"/>
<rect x="1040" y="497" width="1" height="10" fill="#ff0000"/>
<rect x="1039" y="500" width="3" height="6" fill="#ff0000"/>
<rect x="1044" y="476" width="1" height="27" fill="#ff0000"/>
<rect x="1043" y="485" width="3" height="18" fill="#ff0000"/>
<rect x="1048" y="477" width="1" height="48" fill="#00ff00"/>
<rect x="1047" y="486" width="3" height="33" fill="#00ff00"/>
<rect x="1052" y="494" width="1" height="27" fill="#ff0000"/>
<rect x="1051" y="514" width="3" height="5" fill="#ff0000"/>
<rect x="1056" y="495" width="1" height="27" fill="#ff0000"/>
<rect x="1055" y="502" width="3" height="13" fill="#ff0000"/>
<rect x="1060" y="505" width="1" height="6" fill="#00ff00"/>
<rect x="1059" y="506" width="3" height="5" fill="#00ff00"/>
<rect x="1064" y="502" width="1" height="19" fill="#00ff00"/>
<rect x="1063" y="509" width="3" height="11" fill="#00ff00"/>
<rect x="1068" y="497" width="1" height="75" fill="#00ff00"/>
<rect x="1067" y="519" width="3" height="34" fill="#00ff00"/>
<rect x="1072" y="532" width="1" height="40" fill="#00ff00"/>
<rect x="1071" y="551" width="3" height="5" fill="#00ff00"/>
<rect x="1076" y="514" width="1" height="46" fill="#ff0000"/>
<rect x="1075" y="516" width="3" height="40" fill="#ff0000"/>
<rect x="1080" y="501" width="1" height="22" fill="#ff0000"/>
<rect x="1079" y="507" width="3" height="10" fill="#ff0000"/>
<rect x="1084" y="499" width="1" height="9" fill="#ff0000"/>
<rect x="1083" y="501" width="3" height="7" fill="#ff0000"/>
<rect x="1088" y="507" width="1" height="24" fill="#00ff00"/>
<rect x="1087" y="509" width="3" height="14" fill="#00ff00"/>
<rect x="1092" y="511" width="1" height="26" fill="#00ff00"/>
<rect x="1091" y="522" width="3" height="14" fill="#00ff00"/>
<rect x="1096" y="525" width="1" height="12" fill="#ff0000"/>
<rect x="1095" y="531" width="3" height="5" fill="#ff0000"/>
<rect x="1100" y="501" width="1" height="45" fill="#ff0000"/>
<rect x="1099" y="502" width="3" height="31" fill="#ff0000"/>
<rect x="1104" y="472" width="1" height="34" fill="#ff0000"/>
<rect x="1103" y="480" width="3" height="25" fill="#ff0000"/>
<rect x="1108" y="476" width="1" height="12" fill="#00ff00"/>
<rect x="1107" y="477" width="3" height="4" fill="#00ff00"/>
<rect x="1112" y="480" width="1" height="41" fill="#00ff00"/>
<rect x="1111" y="481" width="3" height="21" fill="#00ff00"/>
<rect x="1116" y="492" width="1" height="33" fill="#00ff00"/>
<rect x="1115" y="502" width="3" height="10" fill="#00ff00"/>
<rect x="1120" y="505" width="1" height="32" fill="#00ff00"/>
<rect x="1119" y="510" width="3" height="5" fill="#00ff00"/>
<rect x="1124" y="456" width="1" height="59" fill="#ff0000"/>
<rect x="1123" y="462" width="3" height="51" fill="#ff0000"/>
<rect x="1128" y="444" width="1" height="22" fill="#ff0000"/>
<rect x="1127" y="447" width="3" height="16" fill="#ff0000"/>
<rect x="1132" y="440" width="1" height="18" fill="#ff0000"/>
<rect x="1131" y="441" width="3" height="7" fill="#ff0000"/>
<rect x="1136" y="421" width="1" height="27" fill="#ff0000"/>
<rect x="1135" y="432" width="3" height="15" fill="#ff0000"/>
<rect x="1140" y="420" width="1" height="18" fill="#ff0000"/>
<rect x="1139" y="431" width="3" height="5" fill="#ff0000"/>
<rect x="1144" y="427" width="1" height="21" fill="#00ff00"/>
<rect x="1143" y="434" width="3" height="13" fill="#00ff00"/>
<rect x="1148" y="439" width="1" height="32" fill="#00ff00"/>
<rect x="1147" y="446" width="3" height="24" fill="#00ff00"/>
<rect x="1152" y="454" width="1" height="17" fill="#ff0000"/>
<rect x="1151" y="459" width="3" height="8" fill="#ff0000"/>
<rect x="1156" y="457" width="1" height="10" fill="#00ff00"/>
<rect x="1155" y="459" width="3" height="7" fill="#00ff00"/>
<rect x="1160" y="452" width="1" height="20" fill="#ff0000"/>
<rect x="1159" y="452" width="3" height="11" fill="#ff0000"/>
<rect x="1164" y="432" width="1" height="23" fill="#ff0000"/>
<rect x="1163" y="435" width="3" height="18" fill="#ff0000"/>
<rect x="1168" y="426" width="1" height="21" fill="#ff0000"/>
<rect x="1167" y="427" width="3" height="9" fill="#ff0000"/>
<rect x="1172" y="386" width="1" height="50" fill="#ff0000"/>
<rect x="1171" y="416" width="3" height="14" fill="#ff0000"/>
<rect x="1176" y="392" width="1" height="26" fill="#ff0000"/>
<rect x="1175" y="397" width="3" height="20" fill="#ff0000"/>
<rect x="1180" y="395" width="1" height="10" fill="#00ff00"/>
<rect x="1179" y="397" width="3" height="6" fill="#00ff00"/>
<rect x="1184" y="389" width="1" height="18" fill="#00ff00"/>
<rect x="1183" y="401" width="3" height="5" fill="#00ff00"/>
<rect x="1188" y="387" width="1" height="38" fill="#00ff00"/>
<rect x="1187" y="406" width="3" height="11" fill="#00ff00"/>
<rect x="1192" y="400" width="1" height="20" fill="#00ff00"/>
<rect x="1191" y="409" width="3" height="6" fill="#00ff00"/>
<rect x="1196" y="400" width="1" height="23" fill="#00ff00"/>
<rect x="1195" y="411" width="3" height="6" fill="#00ff00"/>
<rect x="1200" y="397" width="1" height="46" fill="#00ff00"/>
<rect x="1199" y="415" width="3" height="21" fill="#00ff00"/>
<rect x="1204" y="432" width="1" height="13" fill="#00ff00"/>
<rect x="1203" y="435" width="3" height="8" fill="#00ff00"/>
<rect x="1208" y="435" width="1" height="12" fill="#00ff00"/>
<rect x="1207" y="440" width="3" height="6" fill="#00ff00"/>
<rect x="1212" y="437" width="1" height="13" fill="#00ff00"/>
<rect x="1211" y="444" width="3" height="6" fill="#00ff00"/>
<rect x="1216" y="439" width="1" height="27" fill="#00ff00"/>
<rect x="1215" y="446" width="3" height="12" fill="#00ff00"/>
<rect x="1220" y="450" width="1" height="53" fill="#00ff00"/>
<rect x="1219" y="455" width="3" height="46" fill="#00ff00"/>
<rect x="1224" y="470" width="1" height="31" fill="#ff0000"/>
<rect x="1223" y="471" width="3" height="29" fill="#ff0000"/>
<rect x="1228" y="467" width="1" height="9" fill="#ff0000"/>
<rect x="1227" y="469" width="3" height="4" fill="#ff0000"/>
<rect x="1232" y="467" width="1" height="14" fill="#ff0000"/>
<rect x="1231" y="469" width="3" height="3" fill="#ff0000"/>
<rect x="1236" y="455" width="1" height="37" fill="#ff0000"/>
<rect x="1235" y="461" width="3" height="10" fill="#ff0000"/>
<rect x="1240" y="455" width="1" height="36" fill="#00ff00"/>
<rect x="1239" y="461" width="3" height="19" fill="#00ff00"/>
<rect x="1244" y="476" width="1" height="15" fill="#00ff00"/>
<rect x="1243" y="477" width="3" height="8" fill="#00ff00"/>
<rect x="1248" y="481" width="1" height="14" fill="#00ff00"/>
<rect x="1247" y="484" width="3" height="8" fill="#00ff00"/>
<rect x="1252" y="489" width="1" height="6" fill="#00ff00"/>
<rect x="1251" y="490" width="3" height="3" fill="#00ff00"/>
<rect x="1256" y="480" width="1" height="23" fill="#00ff00"/>
<rect x="1255" y="486" width="3" height="16" fill="#00ff00"/>
<rect x="1260" y="489" width="1" height="16" fill="#ff0000"/>
<rect x="1259" y="492" width="3" height="11" fill="#ff0000"/>
<rect x="1264" y="486" width="1" height="22" fill="#00ff00"/>
<rect x="1263" y="492" width="3" height="8" fill="#00ff00"/>
<rect x="1268" y="494" width="1" height="17" fill="#00ff00"/>
<rect x="1267" y="495" width="3" height="11" fill="#00ff00"/>
<rect x="1272" y="496" width="1" height="12" fill="#00ff00"/>
<rect x="1271" y="504" width="3" height="4" fill="#00ff00"/>
<rect x="1276" y="502" width="1" height="13" fill="#00ff00"/>
<rect x="1275" y="506" width="3" height="5" fill="#00ff00"/>
<rect x="1280" y="467" width="1" height="43" fill="#ff0000"/>
<rect x="1279" y="471" width="3" height="37" fill="#ff0000"/>
<rect x="1284" y="435" width="1" height="37" fill="#ff0000"/>
<rect x="1283" y="452" width="3" height="19" fill="#ff0000"/>
<rect x="1288" y="440" width="1" height="22" fill="#ff0000"/>
<rect x="1287" y="442" width="3" height="13" fill="#ff0000"/>
<rect x="1292" y="440" width="1" height="23" fill="#00ff00"/>
<rect x="1291" y="442" width="3" height="18" fill="#00ff00"/>
<rect x="1296" y="439" width="1" height="26" fill="#ff0000"/>
<rect x="1295" y="459" width="3" height="4" fill="#ff0000"/>
<rect x="1300" y="449" width="1" height="11" fill="#ff0000"/>
<rect x="1299" y="454" width="3" height="6" fill="#ff0000"/>
<rect x="1304" y="452" width="1" height="14" fill="#00ff00"/>
<rect x="1303" y="454" width="3" height="6" fill="#00ff00"/>
<rect x="1308" y="455" width="1" height="25" fill="#00ff00"/>
<rect x="1307" y="459" width="3" height="18" fill="#00ff00"/>
<rect x="1312" y="441" width="1" height="37" fill="#ff0000"/>
<rect x="1311" y="444" width="3" height="33" fill="#ff0000"/>
<rect x="1316" y="401" width="1" height="44" fill="#ff0000"/>
<rect x="1315" y="407" width="3" height="36" fill="#ff0000"/>
<rect x="1320" y="379" width="1" height="51" fill="#00ff00"/>
<rect x="1319" y="406" width="3" height="22" fill="#00ff00"/>
<rect x="1324" y="424" width="1" height="8" fill="#00ff00"/>
<rect x="1323" y="426" width="3" height="5" fill="#00ff00"/>
<rect x="1328" y="410" width="1" height="21" fill="#ff0000"/>
<rect x="1327" y="411" width="3" height="16" fill="#ff0000"/>
<rect x="1332" y="410" width="1" height="43" fill="#00ff00"/>
<rect x="1331" y="411" width="3" height="30" fill="#00ff00"/>
<rect x="1336" y="432" width="1" height="21" fill="#ff0000"/>
<rect x="1335" y="435" width="3" height="10" fill="#ff0000"/>
<rect x="1340" y="421" width="1" height="25" fill="#ff0000"/>
<rect x="1339" y="427" width="3" height="10" fill="#ff0000"/>
</g>
<polyline points="4,192.3 8,188.7 12,185.2 16,181.2 20,176.2 24,171.2 28,165.9 32,160.5 36,155.0 40,151.2 44,148.6 48,148.1 52,147.6 56,148.4 60,149.4 64,150.4 68,151.7 72,152.8 76,154.0 80,155.1 84,156.2 88,157.3 92,160.1 96,163.9 100,169.5 104,175.1 108,180.7 112,186.0 116,191.3 120,197.2 124,202.6 128,208.0 132,212.8 136,218.2 140,225.9 144,230.6 148,234.9 152,240.2 156,245.6 160,247.9 164,248.4 168,248.8 172,248.8 176,248.3 180,248.3 184,249.2 188,250.9 192,250.6 196,250.8 200,251.5 204,252.4 208,253.7 212,253.6 216,251.5 220,248.3 224,245.3 228,242.6 232,239.3 236,232.9 240,227.6 244,222.7 248,218.3 252,213.6 256,210.4 260,207.7 264,208.1 268,209.1 272,210.8 276,211.8 280,213.1 284,215.4 288,217.4 292,218.9 296,220.6 300,222.0 304,222.5 308,224.2 312,225.4 316,226.3 320,225.8 324,224.9 328,224.5 332,224.4 336,226.1 340,228.7 344,231.0 348,232.9 352,236.9 356,243.1 360,248.4 364,253.2 368,257.2 372,260.9 376,262.0 380,263.3 384,263.3 388,263.4 392,262.5 396,262.2 400,263.0 404,262.6 408,263.3 412,264.7 416,265.3 420,265.4 424,267.8 428,267.6 432,268.4 436,269.3 440,270.6 444,273.5 448,274.1 452,274.3 456,274.1 460,273.3 464,272.1 468,270.7 472,267.5 476,265.2 480,261.9 484,258.9 488,256.0 492,254.3 496,252.6 500,250.4 504,249.0 508,247.4 512,246.5 516,246.7 520,248.0 524,250.5 528,251.4 532,252.5 536,253.9 540,256.4 544,257.0 548,259.3 552,261.3 556,263.3 560,266.3 564,267.6 568,270.6 572,273.9 576,276.4 580,278.9 584,283.2 588,287.7 592,293.2 596,298.6 600,306.0 604,313.4 608,319.8 612,326.5 616,333.1 620,339.1 624,344.7 628,350.0 632,355.4 636,359.4 640,362.1 644,364.6 648,367.6 652,370.0 656,372.5 660,373.8 664,375.5 668,375.7 672,376.1 676,376.3 680,377.0 684,378.2 688,379.5 692,381.1 696,384.2 700,387.4 704,389.7 708,391.4 712,392.8 716,392.5 720,391.3 724,389.8 728,388.6 732,386.2 736,383.6 740,381.2 744,378.8 748,376.7 752,375.5 756,374.0 760,371.1 764,368.3 768,367.5 772,366.6 776,366.2 780,367.7 784,367.8 788,368.0 792,367.9 796,367.4 800,365.7 804,364.2 808,362.0 812,358.7 816,354.6 820,350.3 824,345.8 828,342.8 832,340.2 836,339.3 840,339.7 844,340.2 848,341.5 852,344.0 856,346.5 860,350.0 864,354.9 868,360.4 872,364.9 876,370.3 880,377.1 884,382.1 888,386.2 892,390.8 896,395.9 900,399.0 904,404.4 908,409.3 912,414.8 916,420.6 920,427.0 924,432.8 928,438.6 932,445.3 936,452.4 940,459.5 944,465.8 948,471.7 952,477.3 956,482.7 960,487.0 964,491.3 968,496.0 972,498.7 976,500.9 980,501.8 984,500.6 988,499.3 992,497.0 996,494.5 1000,492.0 1004,490.2 1008,487.9 1012,485.7 1016,483.1 1020,481.7 1024,479.1 1028,478.7 1032,478.9 1036,479.5 1040,479.5 1044,479.2 1048,480.3 1052,480.5 1056,480.0 1060,479.9 1064,480.7 1068,482.0 1072,483.1 1076,482.8 1080,481.9 1084,480.8 1088,480.2 1092,481.0 1096,482.5 1100,483.8 1104,485.1 1108,486.3 1112,488.8 1116,491.4 1120,494.0 1124,495.5 1128,496.5 1132,497.1 1136,497.0 1140,496.8 1144,496.9 1148,496.5 1152,495.0 1156,493.6 1160,492.0 1164,490.3 1168,487.3 1172,484.0 1176,480.5 1180,476.9 1184,473.1 1188,468.6 1192,463.9 1196,460.5 1200,458.1 1204,456.2 1208,453.6 1212,450.7 1216,448.3 1220,448.2 1224,447.9 1228,447.5 1232,446.5 1236,444.8 1240,443.6 1244,444.4 1248,445.8 1252,447.5 1256,449.8 1260,451.9 1264,453.6 1268,454.8 1272,456.4 1276,457.9 1280,458.6 1284,459.1 1288,459.6 1292,461.1 1296,463.1 1300,464.9 1304,466.7 1308,468.7 1312,469.7 1316,469.4 1320,469.1 1324,468.7 1328,467.6 1332,467.3 1336,466.5 1340,464.1" fill="none" stroke="#0000ff" stroke-width="1" shape-rendering="crispEdges"/>
<polyline points="4,152.5 8,152.5 12,152.5 16,151.5 20,147.5 24,143.6 28,141.2 32,138.8 36,136.4 40,137.9 44,139.6 48,141.8 52,144.2 56,146.8 60,148.0 64,148.6 68,148.7 72,151.5 76,158.5 80,164.6 84,171.4 88,180.2 92,192.8 96,202.1 100,210.8 104,219.6 108,228.4 112,235.0 116,244.3 120,254.1 124,263.4 128,270.3 132,277.6 136,287.0 140,296.1 144,300.3 148,299.5 152,296.5 156,292.1 160,286.0 164,278.1 168,270.5 172,261.1 176,252.4 180,244.4 184,236.6 188,230.4 192,220.9 196,211.9 200,209.4 204,208.8 208,209.1 212,209.9 216,209.9 220,210.6 224,212.2 228,215.1 232,215.9 236,211.2 240,207.8 244,203.1 248,201.2 252,197.9 256,198.9 260,200.4 264,202.6 268,204.2 272,209.4 276,214.1 280,216.9 284,219.8 288,223.4 292,231.1 296,237.4 300,242.8 304,245.6 308,253.1 312,252.9 316,251.8 320,247.4 324,242.6 328,238.3 332,236.9 336,237.9 340,239.0 344,241.4 348,245.1 352,250.8 356,256.6 360,263.1 364,265.4 368,269.4 372,271.9 376,276.4 380,282.8 384,285.9 388,287.6 392,287.4 396,285.9 400,285.6 404,283.5 408,280.0 412,277.4 416,273.7 420,268.9 424,268.2 428,267.5 432,266.8 436,264.5 440,263.1 444,264.4 448,263.1 452,262.7 456,261.5 460,261.9 464,260.3 468,257.9 472,255.5 476,256.2 480,250.6 484,246.7 488,242.7 492,239.9 496,237.8 500,233.1 504,232.1 508,230.1 512,228.4 516,228.7 520,233.9 524,240.1 528,245.5 532,250.1 536,256.4 540,263.4 544,270.4 548,278.2 552,285.4 556,292.2 560,300.1 564,307.6 568,314.8 572,321.0 576,322.4 580,322.9 584,328.4 588,333.2 592,339.8 596,346.8 600,355.6 604,362.6 608,367.9 612,375.2 616,381.0 620,386.5 624,390.9 628,393.2 632,397.6 636,401.1 640,402.9 644,405.1 648,404.9 652,403.1 656,399.1 660,392.8 664,389.8 668,383.6 672,377.4 676,371.9 680,369.3 684,368.0 688,366.4 692,367.6 696,369.8 700,371.8 704,375.6 708,379.0 712,383.2 716,386.9 720,389.4 724,392.9 728,394.9 732,396.5 736,395.1 740,392.9 744,389.5 748,383.6 752,378.9 756,372.3 760,363.2 764,355.7 768,350.8 772,347.6 776,345.3 780,345.3 784,345.2 788,344.6 792,343.8 796,342.4 800,341.1 804,341.2 808,337.5 812,334.9 816,334.4 820,333.1 824,329.1 828,328.1 832,327.6 836,326.0 840,329.1 844,333.2 848,338.4 852,346.4 856,354.1 860,362.5 864,374.4 868,387.2 872,400.9 876,415.3 880,430.2 884,439.9 888,449.4 892,458.0 896,465.8 900,471.3 904,479.9 908,484.5 912,490.1 916,493.8 920,495.6 924,496.3 928,495.4 932,495.6 936,495.8 940,498.9 944,499.6 948,501.5 952,502.1 956,505.4 960,506.1 964,508.9 968,512.2 972,513.7 976,512.5 980,510.4 984,507.2 988,502.9 992,496.4 996,490.4 1000,486.4 1004,479.4 1008,472.1 1012,464.6 1016,457.6 1020,450.8 1024,443.6 1028,441.6 1032,443.0 1036,446.0 1040,450.4 1044,453.1 1048,459.7 1052,465.6 1056,470.2 1060,476.9 1064,484.1 1068,493.4 1072,502.1 1076,507.6 1080,512.2 1084,513.6 1088,514.9 1092,516.9 1096,519.1 1100,520.3 1104,517.6 1108,515.1 1112,515.1 1116,515.1 1120,514.8 1124,508.4 1128,500.6 1132,495.3 1136,489.9 1140,484.9 1144,479.5 1148,474.8 1152,469.6 1156,467.0 1160,465.0 1164,461.8 1168,456.5 1172,449.7 1176,441.4 1180,437.1 1184,434.1 1188,432.3 1192,431.0 1196,429.9 1200,429.1 1204,427.2 1208,426.2 1212,425.1 1216,425.4 1220,430.1 1224,433.2 1228,437.0 1232,442.1 1236,446.4 1240,451.6 1244,456.5 1248,462.0 1252,467.4 1256,472.1 1260,475.7 1264,479.6 1268,483.6 1272,487.1 1276,487.9 1280,487.9 1284,486.6 1288,484.7 1292,484.6 1296,483.1 1300,481.0 1304,478.7 1308,477.6 1312,473.5 1316,467.4 1320,462.3 1324,456.9 1328,450.1 1332,445.1 1336,442.5 1340,440.7" fill="none" stroke="#ff0000" stroke-width="1" shape-rendering="crispEdges"/>
<polyline points="4,157.7 8,161.3 12,164.9 16,168.5 20,155.6 24,142.8 28,132.6 32,116.5 36,98.6 40,106.6 44,119.6 48,131.8 52,153.4 56,178.0 60,186.2 64,184.0 68,182.8 72,188.0 76,188.4 80,191.4 84,199.4 88,205.2 92,214.2 96,228.8 100,248.8 104,266.8 108,288.2 112,296.2 116,304.2 120,305.2 124,305.4 128,305.4 132,307.6 136,311.0 140,317.0 144,308.6 148,296.0 152,281.8 156,263.2 160,238.6 164,226.0 168,215.0 172,205.0 176,194.0 180,189.0 184,189.2 188,195.4 192,198.6 196,203.6 200,210.6 204,218.2 208,222.0 212,232.2 216,233.0 220,229.2 224,224.6 228,222.0 232,210.8 236,192.6 240,181.4 244,169.8 248,159.6 252,153.2 256,176.2 260,197.6 264,220.8 268,240.6 272,265.2 276,271.6 280,270.8 284,270.0 288,264.6 292,253.6 296,246.6 300,242.2 304,231.8 308,236.2 312,237.2 316,238.0 320,233.8 324,232.4 328,223.8 332,226.6 336,231.8 340,246.4 344,261.0 348,272.6 352,285.6 356,294.6 360,299.4 364,303.4 368,305.4 372,297.2 376,289.2 380,287.4 384,281.4 388,277.6 392,275.0 396,273.0 400,269.0 404,265.8 408,264.2 412,266.8 416,265.4 420,256.4 424,262.6 428,262.2 432,259.4 436,261.6 440,265.2 444,267.0 448,262.8 452,261.6 456,260.6 460,262.6 464,252.6 468,252.0 472,245.2 476,241.6 480,231.0 484,224.2 488,217.0 492,217.8 496,213.6 500,218.0 504,222.0 508,226.2 512,228.4 516,237.2 520,254.6 524,274.4 528,288.4 532,302.6 536,308.6 540,306.8 544,301.8 548,309.4 552,312.4 556,318.2 560,324.8 564,330.4 568,330.8 572,336.8 576,339.2 580,338.4 584,346.4 588,354.2 592,361.2 596,375.0 600,393.2 604,405.2 608,409.6 612,417.4 616,420.6 620,417.0 624,410.0 628,407.6 632,401.8 636,394.8 640,392.4 644,394.0 648,394.0 652,390.4 656,387.4 660,376.8 664,366.8 668,357.8 672,348.8 676,340.8 680,344.2 684,346.6 688,353.6 692,367.2 696,386.6 700,401.0 704,415.4 708,425.6 712,431.2 716,424.6 720,416.2 724,406.2 728,393.2 732,378.0 736,367.4 740,356.4 744,344.0 748,335.8 752,337.4 756,337.0 760,332.2 764,331.0 768,339.2 772,336.8 776,340.6 780,356.0 784,363.8 788,360.8 792,356.8 796,348.4 800,332.4 804,324.6 808,317.4 812,312.2 816,309.8 820,308.4 824,305.4 828,310.4 832,320.0 836,332.4 840,352.6 844,372.2 848,385.6 852,401.0 856,411.0 860,418.2 864,432.6 868,449.0 872,462.4 876,479.8 880,495.0 884,494.0 888,494.2 892,492.4 896,494.0 900,487.2 904,497.4 908,499.2 912,501.0 916,496.6 920,500.6 924,495.0 928,493.0 932,495.2 936,500.6 940,503.4 944,503.4 948,509.4 952,512.0 956,514.0 960,517.4 964,525.4 968,531.0 972,529.2 976,520.6 980,507.2 984,488.2 988,469.0 992,452.0 996,441.4 1000,436.0 1004,431.6 1008,425.8 1012,425.0 1016,425.6 1020,425.8 1024,430.8 1028,443.8 1032,460.2 1036,474.8 1040,487.0 1044,495.6 1048,502.8 1052,504.8 1056,503.8 1060,505.8 1064,512.6 1068,519.4 1072,527.6 1076,530.4 1080,529.8 1084,526.2 1088,520.2 1092,516.2 1096,519.2 1100,518.2 1104,514.0 1108,505.6 1112,498.8 1116,494.8 1120,497.2 1124,493.6 1128,487.0 1132,475.0 1136,459.2 1140,442.6 1144,439.4 1148,443.8 1152,447.4 1156,454.0 1160,458.2 1164,456.0 1168,447.6 1172,439.0 1176,425.4 1180,415.4 1184,409.4 1188,407.2 1192,406.8 1196,410.6 1200,417.2 1204,424.6 1208,430.4 1212,437.4 1216,445.6 1220,458.6 1224,464.4 1228,469.2 1232,473.2 1236,474.0 1240,469.8 1244,472.4 1248,476.8 1252,481.4 1256,489.4 1260,492.0 1264,495.0 1268,497.8 1272,500.8 1276,502.6 1280,498.4 1284,489.0 1288,476.4 1292,466.8 1296,456.6 1300,453.2 1304,454.6 1308,461.4 1312,458.4 1316,448.0 1320,442.6 1324,436.8 1328,423.8 1332,423.0 1336,428.6 1340,428.6" fill="none" stroke="#ffa500" stroke-width="1" shape-rendering="crispEdges"/>
<g shape-rendering="crispEdges">
<rect x="4" y="427" width="1680" height="1" fill="#c0c0c0"/>
<rect x="4" y="333" width="1680" height="2" fill="#ff0000"/>
<rect x="3" y="331" width="6" height="6" fill="#ff0000"/><rect x="5" y="333" width="2" height="2" fill="#fff"/>
<rect x="1678" y="331" width="6" height="6" fill="#ff0000"/><rect x="1680" y="333" width="2" height="2" fill="#fff"/>
<rect x="1686" y="328" width="41" height="11" fill="#ff0000"/>
<rect x="4" y="405" width="1680" height="2" fill="#ff0000"/>
<rect x="3" y="403" width="6" height="6" fill="#ff0000"/><rect x="5" y="405" width="2" height="2" fill="#fff"/>
<rect x="1678" y="403" width="6" height="6" fill="#ff0000"/><rect x="1680" y="405" width="2" height="2" fill="#fff"/>
<rect x="1686" y="400" width="41" height="11" fill="#ff0000"/>
<rect x="4" y="478" width="1680" height="2" fill="#00ff00"/>
<rect x="3" y="476" width="6" height="6" fill="#00ff00"/><rect x="5" y="478" width="2" height="2" fill="#fff"/>
<rect x="1678" y="476" width="6" height="6" fill="#00ff00"/><rect x="1680" y="478" width="2" height="2" fill="#fff"/>
<rect x="1686" y="473" width="41" height="11" fill="#00ff00"/>
<rect x="4" y="573" width="1680" height="2" fill="#0000ff"/>
<rect x="3" y="571" width="6" height="6" fill="#0000ff"/><rect x="5" y="573" width="2" height="2" fill="#fff"/>
<rect x="1678" y="571" width="6" height="6" fill="#0000ff"/><rect x="1680" y="573" width="2" height="2" fill="#fff"/>
<rect x="1686" y="568" width="41" height="11" fill="#0000ff"/>
<rect x="1686" y="422" width="41" height="11" fill="#000"/>
</g>
<text x="1690" y="338" font-size="10" fill="#ffffff" stroke="#ffffff" stroke-width="0.25" text-anchor="start" font-weight="normal" textLength="33" lengthAdjust="spacingAndGlyphs">0.70001</text>
<text x="1690" y="410" font-size="10" fill="#ffffff" stroke="#ffffff" stroke-width="0.25" text-anchor="start" font-weight="normal" textLength="33" lengthAdjust="spacingAndGlyphs">0.69012</text>
<text x="1690" y="483" font-size="10" fill="#ffffff" stroke="#ffffff" stroke-width="0.25" text-anchor="start" font-weight="normal" textLength="33" lengthAdjust="spacingAndGlyphs">0.68008</text>
<text x="1690" y="578" font-size="10" fill="#ffffff" stroke="#ffffff" stroke-width="0.25" text-anchor="start" font-weight="normal" textLength="33" lengthAdjust="spacingAndGlyphs">0.66702</text>
<text x="1690" y="431" font-size="10" fill="#fff" stroke="#fff" stroke-width="0.25" text-anchor="start" font-weight="normal" textLength="33" lengthAdjust="spacingAndGlyphs">0.68716</text>
<g shape-rendering="crispEdges">
<line x1="5" y1="622.5" x2="1684" y2="622.5" stroke="#c0c0c0" stroke-width="1" stroke-dasharray="3,3"/>
<line x1="5" y1="663.5" x2="1684" y2="663.5" stroke="#c0c0c0" stroke-width="1" stroke-dasharray="3,3"/>
</g>
<polyline points="4,642.3 8,639.9 12,642.5 16,641.9 20,630.1 24,632.4 28,632.4 32,626.5 36,627.3 40,642.0 44,647.7 48,647.0 52,648.1 56,651.1 60,647.9 64,644.4 68,644.6 72,651.6 76,650.2 80,649.8 84,651.3 88,648.7 92,658.0 96,661.0 100,664.0 104,663.5 108,664.3 112,660.7 116,663.7 120,660.7 124,658.9 128,659.9 132,659.5 136,664.1 140,664.5 144,643.2 148,640.3 152,638.6 156,639.9 160,634.7 164,631.6 168,630.5 172,629.8 176,630.1 180,631.1 184,633.7 188,640.6 192,636.1 196,639.0 200,642.6 204,645.5 208,646.5 212,649.8 216,639.6 220,637.3 224,639.3 228,643.2 232,635.9 236,624.1 240,630.5 244,631.7 248,636.7 252,634.8 256,649.1 260,651.6 264,653.6 268,654.2 272,656.1 276,652.3 280,648.0 284,650.5 288,646.3 292,643.1 296,643.9 300,642.6 304,639.1 308,650.3 312,643.7 316,644.3 320,638.4 324,638.1 328,642.1 332,647.0 336,649.7 340,652.5 344,652.0 348,652.7 352,658.1 356,656.7 360,655.2 364,653.4 368,651.6 372,646.1 376,645.0 380,651.2 384,643.9 388,645.1 392,641.7 396,641.5 400,645.8 404,639.7 408,643.2 412,645.3 416,639.8 420,634.7 424,647.4 428,643.0 432,642.1 436,643.1 440,639.6 444,649.2 448,639.0 452,641.3 456,642.3 460,642.3 464,638.9 468,638.3 472,634.2 476,639.6 480,632.9 484,633.7 488,632.8 492,638.2 496,637.3 500,639.5 504,639.8 508,638.7 512,641.8 516,649.5 520,659.2 524,661.2 528,651.9 532,653.9 536,650.7 540,653.0 544,652.1 548,657.6 552,654.1 556,654.5 560,657.5 564,654.9 568,655.8 572,658.9 576,653.5 580,653.5 584,660.6 588,661.1 592,663.2 596,666.0 600,669.0 604,669.7 608,657.1 612,661.8 616,660.2 620,656.4 624,652.7 628,649.2 632,651.8 636,648.6 640,651.1 644,652.9 648,646.7 652,645.0 656,642.7 660,635.7 664,639.0 668,635.4 672,634.0 676,633.3 680,642.7 684,644.4 688,646.6 692,653.2 696,658.3 700,659.2 704,660.3 708,655.6 712,656.5 716,645.2 720,644.1 724,643.5 728,636.1 732,634.4 736,631.6 740,630.3 744,628.3 748,626.8 752,641.0 756,635.8 760,630.2 764,632.9 768,643.2 772,640.8 776,642.9 780,649.4 784,642.7 788,639.8 792,636.6 796,634.2 800,632.7 804,636.0 808,633.8 812,632.6 816,632.9 820,632.2 824,633.6 828,642.8 832,647.2 836,650.8 840,658.0 844,658.1 848,657.4 852,662.3 856,658.1 860,661.9 864,667.1 868,668.1 872,669.5 876,670.5 880,671.7 884,656.9 888,659.1 892,659.4 896,663.3 900,654.1 904,660.3 908,653.3 912,653.7 916,652.1 920,654.1 924,652.2 928,649.5 932,654.0 936,655.8 940,655.2 944,649.0 948,653.1 952,654.3 956,655.7 960,656.7 964,657.1 968,658.8 972,648.1 976,640.7 980,636.3 984,631.1 988,633.2 992,629.3 996,630.9 1000,633.1 1004,628.9 1008,628.9 1012,630.7 1016,634.9 1020,636.6 1024,637.7 1028,649.4 1032,654.4 1036,655.0 1040,652.6 1044,647.6 1048,655.2 1052,653.9 1056,650.0 1060,651.9 1064,654.0 1068,660.6 1072,661.1 1076,648.6 1080,646.1 1084,644.5 1088,649.6 1092,652.4 1096,651.1 1100,642.9 1104,637.7 1108,637.7 1112,643.4 1116,645.9 1120,646.7 1124,634.2 1128,631.4 1132,630.3 1136,628.7 1140,628.5 1144,633.5 1148,640.2 1152,637.8 1156,639.6 1160,636.4 1164,632.5 1168,630.7 1172,628.4 1176,624.8 1180,626.7 1184,627.9 1188,632.1 1192,631.6 1196,632.4 1200,639.8 1204,642.2 1208,643.3 1212,644.7 1216,647.6 1220,659.3 1224,648.9 1228,648.2 1232,648.2 1236,645.4 1240,650.7 1244,652.0 1248,653.9 1252,654.2 1256,656.7 1260,652.6 1264,654.7 1268,656.5 1272,657.1 1276,658.0 1280,641.0 1284,635.1 1288,632.4 1292,638.8 1296,638.8 1300,637.2 1304,639.2 1308,645.5 1312,635.4 1316,627.0 1320,633.7 1324,634.7 1328,630.5 1332,639.3 1336,638.1 1340,636.2" fill="none" stroke="#1e90ff" stroke-width="1" shape-rendering="crispEdges"/>
<text x="8" y="603" font-size="10" fill="#000" stroke="#000" stroke-width="0.25" text-anchor="start" font-weight="normal" textLength="68" lengthAdjust="spacingAndGlyphs">RSI(14) 56.6384</text>
<text x="1688" y="601.5" font-size="10" fill="#000" stroke="#000" stroke-width="0.25" text-anchor="start" font-weight="normal" textLength="14.8" lengthAdjust="spacingAndGlyphs">100</text>
<text x="1688" y="626.4" font-size="10" fill="#000" stroke="#000" stroke-width="0.25" text-anchor="start" font-weight="normal" textLength="9.8" lengthAdjust="spacingAndGlyphs">70</text>
<text x="1688" y="667.6" font-size="10" fill="#000" stroke="#000" stroke-width="0.25" text-anchor="start" font-weight="normal" textLength="9.8" lengthAdjust="spacingAndGlyphs">30</text>
<text x="1688" y="691.5" font-size="10" fill="#000" stroke="#000" stroke-width="0.25" text-anchor="start" font-weight="normal" textLength="4.9" lengthAdjust="spacingAndGlyphs">0</text>
<rect x="1685" y="591" width="2" height="1" fill="#000"/>
<g shape-rendering="crispEdges" fill="#c0c0c0">
<rect x="4" y="715" width="1" height="21"/>
<rect x="8" y="717" width="1" height="19"/>
<rect x="12" y="720" width="1" height="16"/>
<rect x="16" y="723" width="1" height="13"/>
<rect x="20" y="717" width="1" height="19"/>
<rect x="24" y="714" width="1" height="22"/>
<rect x="28" y="712" width="1" height="24"/>
<rect x="32" y="706" width="1" height="30"/>
<rect x="36" y="702" width="1" height="34"/>
<rect x="40" y="707" width="1" height="29"/>
<rect x="44" y="715" width="1" height="21"/>
<rect x="48" y="721" width="1" height="15"/>
<rect x="52" y="727" width="1" height="9"/>
<rect x="56" y="734" width="1" height="2"/>
<rect x="60" y="736" width="1" height="1"/>
<rect x="64" y="736" width="1" height="2"/>
<rect x="68" y="736" width="1" height="3"/>
<rect x="72" y="736" width="1" height="8"/>
<rect x="76" y="736" width="1" height="11"/>
<rect x="80" y="736" width="1" height="13"/>
<rect x="84" y="736" width="1" height="16"/>
<rect x="88" y="736" width="1" height="16"/>
<rect x="92" y="736" width="1" height="23"/>
<rect x="96" y="736" width="1" height="30"/>
<rect x="100" y="736" width="1" height="38"/>
<rect x="104" y="736" width="1" height="44"/>
<rect x="108" y="736" width="1" height="49"/>
<rect x="112" y="736" width="1" height="51"/>
<rect x="116" y="736" width="1" height="54"/>
<rect x="120" y="736" width="1" height="55"/>
<rect x="124" y="736" width="1" height="55"/>
<rect x="128" y="736" width="1" height="54"/>
<rect x="132" y="736" width="1" height="53"/>
<rect x="136" y="736" width="1" height="55"/>
<rect x="140" y="736" width="1" height="56"/>
<rect x="144" y="736" width="1" height="47"/>
<rect x="148" y="736" width="1" height="38"/>
<rect x="152" y="736" width="1" height="30"/>
<rect x="156" y="736" width="1" height="23"/>
<rect x="160" y="736" width="1" height="15"/>
<rect x="164" y="736" width="1" height="6"/>
<rect x="168" y="735" width="1" height="1"/>
<rect x="172" y="728" width="1" height="8"/>
<rect x="176" y="723" width="1" height="13"/>
<rect x="180" y="720" width="1" height="16"/>
<rect x="184" y="718" width="1" height="18"/>
<rect x="188" y="720" width="1" height="16"/>
<rect x="192" y="719" width="1" height="17"/>
<rect x="196" y="720" width="1" height="16"/>
<rect x="200" y="722" width="1" height="14"/>
<rect x="204" y="726" width="1" height="10"/>
<rect x="208" y="729" width="1" height="7"/>
<rect x="212" y="733" width="1" height="3"/>
<rect x="216" y="732" width="1" height="4"/>
<rect x="220" y="730" width="1" height="6"/>
<rect x="224" y="729" width="1" height="7"/>
<rect x="228" y="730" width="1" height="6"/>
<rect x="232" y="728" width="1" height="8"/>
<rect x="236" y="718" width="1" height="18"/>
<rect x="240" y="713" width="1" height="23"/>
<rect x="244" y="710" width="1" height="26"/>
<rect x="248" y="710" width="1" height="26"/>
<rect x="252" y="710" width="1" height="26"/>
<rect x="256" y="718" width="1" height="18"/>
<rect x="260" y="727" width="1" height="9"/>
<rect x="264" y="735" width="1" height="1"/>
<rect x="268" y="736" width="1" height="6"/>
<rect x="272" y="736" width="1" height="13"/>
<rect x="276" y="736" width="1" height="17"/>
<rect x="280" y="736" width="1" height="17"/>
<rect x="284" y="736" width="1" height="19"/>
<rect x="288" y="736" width="1" height="18"/>
<rect x="292" y="736" width="1" height="15"/>
<rect x="296" y="736" width="1" height="13"/>
<rect x="300" y="736" width="1" height="11"/>
<rect x="304" y="736" width="1" height="7"/>
<rect x="308" y="736" width="1" height="11"/>
<rect x="312" y="736" width="1" height="9"/>
<rect x="316" y="736" width="1" height="9"/>
<rect x="320" y="736" width="1" height="4"/>
<rect x="324" y="736" width="1" height="1"/>
<rect x="328" y="736" width="1" height="1"/>
<rect x="332" y="736" width="1" height="3"/>
<rect x="336" y="736" width="1" height="6"/>
<rect x="340" y="736" width="1" height="11"/>
<rect x="344" y="736" width="1" height="14"/>
<rect x="348" y="736" width="1" height="17"/>
<rect x="352" y="736" width="1" height="22"/>
<rect x="356" y="736" width="1" height="26"/>
<rect x="360" y="736" width="1" height="28"/>
<rect x="364" y="736" width="1" height="28"/>
<rect x="368" y="736" width="1" height="28"/>
<rect x="372" y="736" width="1" height="25"/>
<rect x="376" y="736" width="1" height="22"/>
<rect x="380" y="736" width="1" height="22"/>
<rect x="384" y="736" width="1" height="19"/>
<rect x="388" y="736" width="1" height="17"/>
<rect x="392" y="736" width="1" height="14"/>
<rect x="396" y="736" width="1" height="11"/>
<rect x="400" y="736" width="1" height="10"/>
<rect x="404" y="736" width="1" height="7"/>
<rect x="408" y="736" width="1" height="6"/>
<rect x="412" y="736" width="1" height="6"/>
<rect x="416" y="736" width="1" height="4"/>
<rect x="420" y="735" width="1" height="1"/>
<rect x="424" y="736" width="1" height="2"/>
<rect x="428" y="736" width="1" height="1"/>
<rect x="432" y="736" width="1" height="1"/>
<rect x="436" y="736" width="1" height="1"/>
<rect x="440" y="735" width="1" height="1"/>
<rect x="444" y="736" width="1" height="2"/>
<rect x="448" y="736" width="1" height="1"/>
<rect x="452" y="735" width="1" height="2"/>
<rect x="456" y="734" width="1" height="2"/>
<rect x="460" y="734" width="1" height="2"/>
<rect x="464" y="732" width="1" height="4"/>
<rect x="468" y="731" width="1" height="6"/>
<rect x="472" y="727" width="1" height="9"/>
<rect x="476" y="727" width="1" height="10"/>
<rect x="480" y="722" width="1" height="14"/>
<rect x="484" y="720" width="1" height="16"/>
<rect x="488" y="717" width="1" height="19"/>
<rect x="492" y="718" width="1" height="18"/>
<rect x="496" y="718" width="1" height="18"/>
<rect x="500" y="719" width="1" height="17"/>
<rect x="504" y="720" width="1" height="16"/>
<rect x="508" y="721" width="1" height="15"/>
<rect x="512" y="723" width="1" height="13"/>
<rect x="516" y="728" width="1" height="8"/>
<rect x="520" y="736" width="1" height="2"/>
<rect x="524" y="736" width="1" height="11"/>
<rect x="528" y="736" width="1" height="14"/>
<rect x="532" y="736" width="1" height="18"/>
<rect x="536" y="736" width="1" height="19"/>
<rect x="540" y="736" width="1" height="21"/>
<rect x="544" y="736" width="1" height="22"/>
<rect x="548" y="736" width="1" height="26"/>
<rect x="552" y="736" width="1" height="28"/>
<rect x="556" y="736" width="1" height="29"/>
<rect x="560" y="736" width="1" height="31"/>
<rect x="564" y="736" width="1" height="32"/>
<rect x="568" y="736" width="1" height="32"/>
<rect x="572" y="736" width="1" height="34"/>
<rect x="576" y="736" width="1" height="33"/>
<rect x="580" y="736" width="1" height="32"/>
<rect x="584" y="736" width="1" height="35"/>
<rect x="588" y="736" width="1" height="38"/>
<rect x="592" y="736" width="1" height="40"/>
<rect x="596" y="736" width="1" height="44"/>
<rect x="600" y="736" width="1" height="49"/>
<rect x="604" y="736" width="1" height="53"/>
<rect x="608" y="736" width="1" height="51"/>
<rect x="612" y="736" width="1" height="53"/>
<rect x="616" y="736" width="1" height="53"/>
<rect x="620" y="736" width="1" height="51"/>
<rect x="624" y="736" width="1" height="47"/>
<rect x="628" y="736" width="1" height="43"/>
<rect x="632" y="736" width="1" height="40"/>
<rect x="636" y="736" width="1" height="36"/>
<rect x="640" y="736" width="1" height="34"/>
<rect x="644" y="736" width="1" height="33"/>
<rect x="648" y="736" width="1" height="29"/>
<rect x="652" y="736" width="1" height="25"/>
<rect x="656" y="736" width="1" height="21"/>
<rect x="660" y="736" width="1" height="15"/>
<rect x="664" y="736" width="1" height="10"/>
<rect x="668" y="736" width="1" height="5"/>
<rect x="672" y="736" width="1" height="1"/>
<rect x="676" y="733" width="1" height="3"/>
<rect x="680" y="733" width="1" height="3"/>
<rect x="684" y="734" width="1" height="2"/>
<rect x="688" y="736" width="1" height="1"/>
<rect x="692" y="736" width="1" height="4"/>
<rect x="696" y="736" width="1" height="10"/>
<rect x="700" y="736" width="1" height="16"/>
<rect x="704" y="736" width="1" height="21"/>
<rect x="708" y="736" width="1" height="23"/>
<rect x="712" y="736" width="1" height="24"/>
<rect x="716" y="736" width="1" height="22"/>
<rect x="720" y="736" width="1" height="19"/>
<rect x="724" y="736" width="1" height="16"/>
<rect x="728" y="736" width="1" height="10"/>
<rect x="732" y="736" width="1" height="5"/>
<rect x="736" y="736" width="1" height="1"/>
<rect x="740" y="731" width="1" height="6"/>
<rect x="744" y="726" width="1" height="10"/>
<rect x="748" y="721" width="1" height="15"/>
<rect x="752" y="723" width="1" height="14"/>
<rect x="756" y="721" width="1" height="15"/>
<rect x="760" y="717" width="1" height="19"/>
<rect x="764" y="715" width="1" height="21"/>
<rect x="768" y="719" width="1" height="17"/>
<rect x="772" y="720" width="1" height="16"/>
<rect x="776" y="723" width="1" height="13"/>
<rect x="780" y="728" width="1" height="8"/>
<rect x="784" y="729" width="1" height="7"/>
<rect x="788" y="729" width="1" height="8"/>
<rect x="792" y="726" width="1" height="10"/>
<rect x="796" y="723" width="1" height="13"/>
<rect x="800" y="720" width="1" height="16"/>
<rect x="804" y="719" width="1" height="17"/>
<rect x="808" y="717" width="1" height="19"/>
<rect x="812" y="715" width="1" height="21"/>
<rect x="816" y="714" width="1" height="22"/>
<rect x="820" y="713" width="1" height="23"/>
<rect x="824" y="713" width="1" height="23"/>
<rect x="828" y="717" width="1" height="20"/>
<rect x="832" y="721" width="1" height="15"/>
<rect x="836" y="727" width="1" height="9"/>
<rect x="840" y="736" width="1" height="1"/>
<rect x="844" y="736" width="1" height="7"/>
<rect x="848" y="736" width="1" height="12"/>
<rect x="852" y="736" width="1" height="19"/>
<rect x="856" y="736" width="1" height="23"/>
<rect x="860" y="736" width="1" height="28"/>
<rect x="864" y="736" width="1" height="36"/>
<rect x="868" y="736" width="1" height="43"/>
<rect x="872" y="736" width="1" height="49"/>
<rect x="876" y="736" width="1" height="54"/>
<rect x="880" y="736" width="1" height="59"/>
<rect x="884" y="736" width="1" height="57"/>
<rect x="888" y="736" width="1" height="56"/>
<rect x="892" y="736" width="1" height="56"/>
<rect x="896" y="736" width="1" height="57"/>
<rect x="900" y="736" width="1" height="54"/>
<rect x="904" y="736" width="1" height="56"/>
<rect x="908" y="736" width="1" height="53"/>
<rect x="912" y="736" width="1" height="51"/>
<rect x="916" y="736" width="1" height="48"/>
<rect x="920" y="736" width="1" height="46"/>
<rect x="924" y="736" width="1" height="44"/>
<rect x="928" y="736" width="1" height="40"/>
<rect x="932" y="736" width="1" height="39"/>
<rect x="936" y="736" width="1" height="39"/>
<rect x="940" y="736" width="1" height="39"/>
<rect x="944" y="736" width="1" height="35"/>
<rect x="948" y="736" width="1" height="35"/>
<rect x="952" y="736" width="1" height="34"/>
<rect x="956" y="736" width="1" height="35"/>
<rect x="960" y="736" width="1" height="35"/>
<rect x="964" y="736" width="1" height="35"/>
<rect x="968" y="736" width="1" height="36"/>
<rect x="972" y="736" width="1" height="32"/>
<rect x="976" y="736" width="1" height="26"/>
<rect x="980" y="736" width="1" height="19"/>
<rect x="984" y="736" width="1" height="10"/>
<rect x="988" y="736" width="1" height="3"/>
<rect x="992" y="732" width="1" height="4"/>
<rect x="996" y="727" width="1" height="9"/>
<rect x="1000" y="724" width="1" height="12"/>
<rect x="1004" y="719" width="1" height="17"/>
<rect x="1008" y="716" width="1" height="20"/>
<rect x="1012" y="714" width="1" height="22"/>
<rect x="1016" y="714" width="1" height="22"/>
<rect x="1020" y="715" width="1" height="21"/>
<rect x="1024" y="716" width="1" height="20"/>
<rect x="1028" y="722" width="1" height="14"/>
<rect x="1032" y="729" width="1" height="7"/>
<rect x="1036" y="736" width="1" height="1"/>
<rect x="1040" y="736" width="1" height="3"/>
<rect x="1044" y="736" width="1" height="5"/>
<rect x="1048" y="736" width="1" height="10"/>
<rect x="1052" y="736" width="1" height="13"/>
<rect x="1056" y="736" width="1" height="14"/>
<rect x="1060" y="736" width="1" height="15"/>
<rect x="1064" y="736" width="1" height="17"/>
<rect x="1068" y="736" width="1" height="22"/>
<rect x="1072" y="736" width="1" height="27"/>
<rect x="1076" y="736" width="1" height="25"/>
<rect x="1080" y="736" width="1" height="23"/>
<rect x="1084" y="736" width="1" height="20"/>
<rect x="1088" y="736" width="1" height="20"/>
<rect x="1092" y="736" width="1" height="21"/>
<rect x="1096" y="736" width="1" height="21"/>
<rect x="1100" y="736" width="1" height="18"/>
<rect x="1104" y="736" width="1" height="12"/>
<rect x="1108" y="736" width="1" height="8"/>
<rect x="1112" y="736" width="1" height="7"/>
<rect x="1116" y="736" width="1" height="7"/>
<rect x="1120" y="736" width="1" height="7"/>
<rect x="1124" y="736" width="1" height="2"/>
<rect x="1128" y="732" width="1" height="4"/>
<rect x="1132" y="726" width="1" height="10"/>
<rect x="1136" y="721" width="1" height="15"/>
<rect x="1140" y="717" width="1" height="19"/>
<rect x="1144" y="716" width="1" height="20"/>
<rect x="1148" y="718" width="1" height="18"/>
<rect x="1152" y="718" width="1" height="18"/>
<rect x="1156" y="720" width="1" height="17"/>
<rect x="1160" y="719" width="1" height="17"/>
<rect x="1164" y="717" width="1" height="19"/>
<rect x="1168" y="715" width="1" height="21"/>
<rect x="1172" y="712" width="1" height="24"/>
<rect x="1176" y="708" width="1" height="28"/>
<rect x="1180" y="706" width="1" height="30"/>
<rect x="1184" y="705" width="1" height="31"/>
<rect x="1188" y="706" width="1" height="30"/>
<rect x="1192" y="706" width="1" height="30"/>
<rect x="1196" y="707" width="1" height="29"/>
<rect x="1200" y="711" width="1" height="25"/>
<rect x="1204" y="715" width="1" height="22"/>
<rect x="1208" y="718" width="1" height="18"/>
<rect x="1212" y="721" width="1" height="15"/>
<rect x="1216" y="725" width="1" height="11"/>
<rect x="1220" y="733" width="1" height="3"/>
<rect x="1224" y="736" width="1" height="1"/>
<rect x="1228" y="736" width="1" height="2"/>
<rect x="1232" y="736" width="1" height="4"/>
<rect x="1236" y="736" width="1" height="4"/>
<rect x="1240" y="736" width="1" height="6"/>
<rect x="1244" y="736" width="1" height="9"/>
<rect x="1248" y="736" width="1" height="11"/>
<rect x="1252" y="736" width="1" height="13"/>
<rect x="1256" y="736" width="1" height="15"/>
<rect x="1260" y="736" width="1" height="16"/>
<rect x="1264" y="736" width="1" height="17"/>
<rect x="1268" y="736" width="1" height="19"/>
<rect x="1272" y="736" width="1" height="20"/>
<rect x="1276" y="736" width="1" height="21"/>
<rect x="1280" y="736" width="1" height="17"/>
<rect x="1284" y="736" width="1" height="11"/>
<rect x="1288" y="736" width="1" height="6"/>
<rect x="1292" y="736" width="1" height="3"/>
<rect x="1296" y="736" width="1" height="1"/>
<rect x="1300" y="735" width="1" height="1"/>
<rect x="1304" y="734" width="1" height="2"/>
<rect x="1308" y="735" width="1" height="1"/>
<rect x="1312" y="733" width="1" height="4"/>
<rect x="1316" y="726" width="1" height="10"/>
<rect x="1320" y="724" width="1" height="12"/>
<rect x="1324" y="722" width="1" height="14"/>
<rect x="1328" y="719" width="1" height="17"/>
<rect x="1332" y="720" width="1" height="16"/>
<rect x="1336" y="720" width="1" height="16"/>
<rect x="1340" y="720" width="1" height="16"/>
</g>
<polyline points="4,703.3 8,705.2 12,707.0 16,708.9 20,710.8 24,711.8 28,712.8 32,713.4 36,714.0 40,713.1 44,712.9 48,713.0 52,713.5 56,715.4 60,718.0 64,720.9 68,724.6 72,729.3 76,733.8 80,737.6 84,740.9 88,743.7 92,746.5 96,749.7 100,753.7 104,758.3 108,762.9 112,767.3 116,771.9 120,776.3 124,780.6 128,784.1 132,786.7 136,788.5 140,789.8 144,789.6 148,788.2 152,785.5 156,781.9 160,777.5 164,772.2 168,766.1 172,759.1 176,751.5 180,744.4 184,738.2 188,733.1 192,728.7 196,725.2 200,723.0 204,722.0 208,722.0 212,723.1 216,724.4 220,725.6 224,726.6 228,727.8 232,728.7 236,728.2 240,726.8 244,724.7 248,722.2 252,719.8 256,718.5 260,718.3 264,718.8 268,720.5 272,724.0 276,728.4 280,733.2 284,738.2 288,743.1 292,746.8 296,749.3 300,750.6 304,750.7 308,750.4 312,749.6 316,748.6 320,747.0 324,745.1 328,743.4 332,742.2 336,741.6 340,742.0 344,742.4 348,743.2 352,744.7 356,747.1 360,750.1 364,753.2 368,756.0 372,758.1 376,759.3 380,760.3 384,760.5 388,759.9 392,758.6 396,756.7 400,754.7 404,752.4 408,750.3 412,748.6 416,746.5 420,744.3 424,742.6 428,741.3 432,740.1 436,739.1 440,738.1 444,737.7 448,737.0 452,736.4 456,736.3 460,735.9 464,735.3 468,734.6 472,733.6 476,732.6 480,730.8 484,729.1 488,727.1 492,725.3 496,723.4 500,722.0 504,720.8 508,720.2 512,719.8 516,720.4 520,722.4 524,725.7 528,729.3 532,733.2 536,737.2 540,741.3 544,745.5 548,749.9 552,753.9 556,756.9 560,759.2 564,761.1 568,762.8 572,764.5 576,765.9 580,767.0 584,768.0 588,769.1 592,770.4 596,771.9 600,773.8 604,776.1 608,778.0 612,780.2 616,782.5 620,784.2 624,785.3 628,785.5 632,785.1 636,783.6 640,781.5 644,779.5 648,776.8 652,773.8 656,770.4 660,766.8 664,763.2 668,759.3 672,755.4 676,751.3 680,747.3 684,743.8 688,741.0 692,739.0 696,738.6 700,739.2 704,740.9 708,743.3 712,746.4 716,749.1 720,751.4 724,753.2 728,753.9 732,753.3 736,751.5 740,748.6 744,744.9 748,740.6 752,736.7 756,733.0 760,729.1 764,725.7 768,723.2 772,721.5 776,720.6 780,720.9 784,721.8 788,722.5 792,723.0 796,723.6 800,724.1 804,724.2 808,723.8 812,723.0 816,721.4 820,719.6 824,717.9 828,716.8 832,716.6 836,717.4 840,719.3 844,722.2 848,725.8 852,730.4 856,735.4 860,741.1 864,747.3 868,753.7 872,760.1 876,766.2 880,772.0 884,777.0 888,781.2 892,784.9 896,788.1 900,790.1 904,791.5 908,792.0 912,791.6 916,790.4 920,789.2 924,787.7 928,786.0 932,784.0 936,782.3 940,780.4 944,778.4 948,776.6 952,775.0 956,773.7 960,772.8 964,772.2 968,771.9 972,771.1 976,769.7 980,767.8 984,765.0 988,761.6 992,757.3 996,752.5 1000,747.3 1004,741.5 1008,735.7 1012,730.3 1016,725.8 1020,722.4 1024,719.9 1028,718.8 1032,719.0 1036,720.3 1040,722.5 1044,725.3 1048,728.8 1052,732.6 1056,736.5 1060,740.3 1064,743.8 1068,747.0 1072,750.1 1076,752.5 1080,754.4 1084,755.6 1088,756.3 1092,757.1 1096,757.8 1100,757.8 1104,756.7 1108,754.6 1112,752.6 1116,750.9 1120,749.5 1124,747.5 1128,744.7 1132,741.3 1136,737.7 1140,734.2 1144,731.0 1148,728.2 1152,725.5 1156,722.8 1160,720.7 1164,719.1 1168,717.9 1172,716.9 1176,716.0 1180,714.9 1184,713.5 1188,712.1 1192,710.6 1196,709.3 1200,708.5 1204,708.5 1208,709.1 1212,710.6 1216,712.7 1220,715.9 1224,719.2 1228,722.8 1232,726.4 1236,729.7 1240,732.8 1244,735.7 1248,738.6 1252,741.2 1256,743.3 1260,745.0 1264,746.7 1268,748.4 1272,750.1 1276,751.7 1280,752.6 1284,752.6 1288,751.8 1292,750.5 1296,748.9 1300,746.9 1304,744.6 1308,742.3 1312,739.6 1316,736.7 1320,734.0 1324,731.8 1328,729.6 1332,727.6 1336,725.9 1340,724.3" fill="none" stroke="#ff0000" stroke-width="1" stroke-dasharray="4,3" shape-rendering="crispEdges"/>
<text x="8" y="709" font-size="10" fill="#000" stroke="#000" stroke-width="0.25" text-anchor="start" font-weight="normal" textLength="147" lengthAdjust="spacingAndGlyphs">MACD(12,26,9) 0.001540 0.001131</text>
<text x="1688" y="707.6" font-size="10" fill="#000" stroke="#000" stroke-width="0.25" text-anchor="start" font-weight="normal" textLength="36.9" lengthAdjust="spacingAndGlyphs">0.003804</text>
<text x="1688" y="740" font-size="10" fill="#000" stroke="#000" stroke-width="0.25" text-anchor="start" font-weight="normal" textLength="17.2" lengthAdjust="spacingAndGlyphs">0.00</text>
<text x="1688" y="796" font-size="10" fill="#000" stroke="#000" stroke-width="0.25" text-anchor="start" font-weight="normal" textLength="39.9" lengthAdjust="spacingAndGlyphs">-0.006087</text>
<g shape-rendering="crispEdges" fill="#000">
<rect x="4" y="800" width="1" height="3"/>
<rect x="68" y="800" width="1" height="3"/>
<rect x="132" y="800" width="1" height="3"/>
<rect x="196" y="800" width="1" height="3"/>
<rect x="260" y="800" width="1" height="3"/>
<rect x="324" y="800" width="1" height="3"/>
<rect x="388" y="800" width="1" height="3"/>
<rect x="452" y="800" width="1" height="3"/>
<rect x="516" y="800" width="1" height="3"/>
<rect x="580" y="800" width="1" height="3"/>
<rect x="644" y="800" width="1" height="3"/>
<rect x="708" y="800" width="1" height="3"/>
<rect x="772" y="800" width="1" height="3"/>
<rect x="836" y="800" width="1" height="3"/>
<rect x="900" y="800" width="1" height="3"/>
<rect x="964" y="800" width="1" height="3"/>
<rect x="1028" y="800" width="1" height="3"/>
<rect x="1092" y="800" width="1" height="3"/>
<rect x="1156" y="800" width="1" height="3"/>
<rect x="1220" y="800" width="1" height="3"/>
<rect x="1284" y="800" width="1" height="3"/>
</g>
<text x="3" y="812" font-size="10" fill="#000" stroke="#000" stroke-width="0.25" text-anchor="start" font-weight="normal" textLength="52.5" lengthAdjust="spacingAndGlyphs">24 Nov 2018</text>
<text x="67" y="812" font-size="10" fill="#000" stroke="#000" stroke-width="0.25" text-anchor="start" font-weight="normal" textLength="52.5" lengthAdjust="spacingAndGlyphs">13 Dec 2018</text>
<text x="131" y="812" font-size="10" fill="#000" stroke="#000" stroke-width="0.25" text-anchor="start" font-weight="normal" textLength="45.8" lengthAdjust="spacingAndGlyphs">1 Jan 2019</text>
<text x="195" y="812" font-size="10" fill="#000" stroke="#000" stroke-width="0.25" text-anchor="start" font-weight="normal" textLength="50.9" lengthAdjust="spacingAndGlyphs">19 Jan 2019</text>
<text x="259" y="812" font-size="10" fill="#000" stroke="#000" stroke-width="0.25" text-anchor="start" font-weight="normal" textLength="46.8" lengthAdjust="spacingAndGlyphs">7 Feb 2019</text>
<text x="323" y="812" font-size="10" fill="#000" stroke="#000" stroke-width="0.25" text-anchor="start" font-weight="normal" textLength="51.9" lengthAdjust="spacingAndGlyphs">26 Feb 2019</text>
<text x="387" y="812" font-size="10" fill="#000" stroke="#000" stroke-width="0.25" text-anchor="start" font-weight="normal" textLength="51.9" lengthAdjust="spacingAndGlyphs">16 Mar 2019</text>
<text x="451" y="812" font-size="10" fill="#000" stroke="#000" stroke-width="0.25" text-anchor="start" font-weight="normal" textLength="44.7" lengthAdjust="spacingAndGlyphs">4 Apr 2019</text>
<text x="515" y="812" font-size="10" fill="#000" stroke="#000" stroke-width="0.25" text-anchor="start" font-weight="normal" textLength="49.9" lengthAdjust="spacingAndGlyphs">23 Apr 2019</text>
<text x="579" y="812" font-size="10" fill="#000" stroke="#000" stroke-width="0.25" text-anchor="start" font-weight="normal" textLength="52.8" lengthAdjust="spacingAndGlyphs">11 May 2019</text>
<text x="643" y="812" font-size="10" fill="#000" stroke="#000" stroke-width="0.25" text-anchor="start" font-weight="normal" textLength="53.5" lengthAdjust="spacingAndGlyphs">30 May 2019</text>
<text x="707" y="812" font-size="10" fill="#000" stroke="#000" stroke-width="0.25" text-anchor="start" font-weight="normal" textLength="50.9" lengthAdjust="spacingAndGlyphs">18 Jun 2019</text>
<text x="771" y="812" font-size="10" fill="#000" stroke="#000" stroke-width="0.25" text-anchor="start" font-weight="normal" textLength="42.7" lengthAdjust="spacingAndGlyphs">6 Jul 2019</text>
<text x="835" y="812" font-size="10" fill="#000" stroke="#000" stroke-width="0.25" text-anchor="start" font-weight="normal" textLength="47.8" lengthAdjust="spacingAndGlyphs">25 Jul 2019</text>
<text x="899" y="812" font-size="10" fill="#000" stroke="#000" stroke-width="0.25" text-anchor="start" font-weight="normal" textLength="52.0" lengthAdjust="spacingAndGlyphs">13 Aug 2019</text>
<text x="963" y="812" font-size="10" fill="#000" stroke="#000" stroke-width="0.25" text-anchor="start" font-weight="normal" textLength="52.0" lengthAdjust="spacingAndGlyphs">31 Aug 2019</text>
<text x="1027" y="812" font-size="10" fill="#000" stroke="#000" stroke-width="0.25" text-anchor="start" font-weight="normal" textLength="52.5" lengthAdjust="spacingAndGlyphs">19 Sep 2019</text>
<text x="1091" y="812" font-size="10" fill="#000" stroke="#000" stroke-width="0.25" text-anchor="start" font-weight="normal" textLength="45.2" lengthAdjust="spacingAndGlyphs">8 Oct 2019</text>
<text x="1155" y="812" font-size="10" fill="#000" stroke="#000" stroke-width="0.25" text-anchor="start" font-weight="normal" textLength="50.4" lengthAdjust="spacingAndGlyphs">26 Oct 2019</text>
<text x="1219" y="812" font-size="10" fill="#000" stroke="#000" stroke-width="0.25" text-anchor="start" font-weight="normal" textLength="52.5" lengthAdjust="spacingAndGlyphs">14 Nov 2019</text>
<text x="1283" y="812" font-size="10" fill="#000" stroke="#000" stroke-width="0.25" text-anchor="start" font-weight="normal" textLength="47.3" lengthAdjust="spacingAndGlyphs">3 Dec 2019</text>
<rect x="0" y="820" width="1727" height="1" fill="#e3e3e3"/>
<rect x="0" y="821" width="1727" height="1" fill="#ffffff"/>
<rect x="0" y="822" width="1727" height="1" fill="#000"/>
<rect x="0" y="823" width="1727" height="18" fill="#f0f0f0"/>
<rect x="0" y="841" width="1727" height="3" fill="#f7f7f7"/>
<rect x="0" y="823" width="1" height="18" fill="#6d6d6d"/>
<g shape-rendering="crispEdges">
<rect x="209" y="822" width="104" height="18" fill="#ffffff"/>
<rect x="209" y="822" width="1" height="18" fill="#000"/>
<rect x="312" y="822" width="1" height="18" fill="#000"/><rect x="313" y="823" width="1" height="18" fill="#808080"/>
<rect x="209" y="839" width="104" height="1" fill="#000"/><rect x="210" y="840" width="104" height="1" fill="#808080"/>
<rect x="109" y="825" width="1" height="13" fill="#808080"/>
<rect x="417" y="825" width="1" height="13" fill="#808080"/>
<rect x="521" y="825" width="1" height="13" fill="#808080"/>
</g>
<text x="17.5" y="836.5" font-size="12.5" fill="#6a6a6a" stroke="#6a6a6a" stroke-width="0" text-anchor="start" font-weight="normal" textLength="79.5" lengthAdjust="spacingAndGlyphs">EURUSD,Daily</text>
<text x="119.6" y="836.5" font-size="12.5" fill="#6a6a6a" stroke="#6a6a6a" stroke-width="0" text-anchor="start" font-weight="normal" textLength="78.2" lengthAdjust="spacingAndGlyphs">USDCHF,Daily</text>
<text x="220.5" y="836.5" font-size="12.5" fill="#000000" stroke="#000000" stroke-width="0" text-anchor="start" font-weight="normal" textLength="81.5" lengthAdjust="spacingAndGlyphs">AUDUSD,Daily</text>
<text x="324.4" y="836.5" font-size="12.5" fill="#6a6a6a" stroke="#6a6a6a" stroke-width="0" text-anchor="start" font-weight="normal" textLength="80.4" lengthAdjust="spacingAndGlyphs">USDCAD,Daily</text>
<text x="427" y="836.5" font-size="12.5" fill="#6a6a6a" stroke="#6a6a6a" stroke-width="0" text-anchor="start" font-weight="normal" textLength="83" lengthAdjust="spacingAndGlyphs">USDCNH,Daily</text>
<path d="M1699 831 L1703 827 L1703 835 Z" fill="#a0a0a0"/>
<path d="M1722 831 L1718 827 L1718 835 Z" fill="#a0a0a0"/>
<path d="M7 28 L14 28 L10.5 32 Z" fill="#000"/>
<text x="20" y="33" font-size="10" fill="#000" stroke="#000" stroke-width="0.25" text-anchor="start" font-weight="normal" textLength="64" lengthAdjust="spacingAndGlyphs">AUDUSD,Daily</text>
<text x="91" y="33" font-size="10" fill="#000" stroke="#000" stroke-width="0.25" text-anchor="start" font-weight="normal" textLength="33" lengthAdjust="spacingAndGlyphs">0.68597</text>
<text x="127" y="33" font-size="10" fill="#000" stroke="#000" stroke-width="0.25" text-anchor="start" font-weight="normal" textLength="33" lengthAdjust="spacingAndGlyphs">0.68798</text>
<text x="163" y="33" font-size="10" fill="#000" stroke="#000" stroke-width="0.25" text-anchor="start" font-weight="normal" textLength="33" lengthAdjust="spacingAndGlyphs">0.68476</text>
<text x="199" y="33" font-size="10" fill="#000" stroke="#000" stroke-width="0.25" text-anchor="start" font-weight="normal" textLength="33" lengthAdjust="spacingAndGlyphs">0.68716</text>
<path d="M1342 22 L1351 22 L1346.5 27 Z" fill="#c0c0c0"/>
</svg>
</body></html>
